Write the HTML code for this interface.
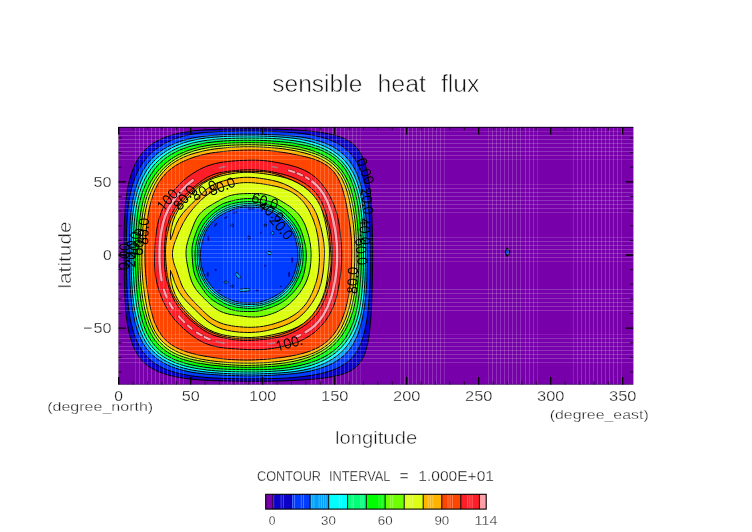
<!DOCTYPE html>
<html><head><meta charset="utf-8"><title>sensible heat flux</title>
<style>html,body{margin:0;padding:0;background:#fff}body{width:752px;height:532px;overflow:hidden}
svg{display:block;font-family:"Liberation Sans",sans-serif}</style></head>
<body><svg width="752" height="532" viewBox="0 0 752 532">
<rect width="752" height="532" fill="#fff"/>
<rect x="118.5" y="127.0" width="514.7" height="257.5" fill="#7800aa"/>
<path d="M372.6 255.0 L372.6 250.6 L372.6 246.2 L372.5 241.7 L372.5 237.3 L372.4 232.8 L372.3 228.2 L372.1 223.6 L372.0 219.0 L371.8 214.3 L371.5 209.5 L371.2 204.6 L370.9 199.6 L370.4 194.5 L369.9 189.3 L369.3 184.1 L368.5 178.7 L367.5 173.3 L366.3 167.9 L364.8 162.6 L362.8 157.4 L360.3 152.5 L357.3 148.1 L353.5 144.3 L349.2 141.2 L344.5 138.6 L339.4 136.6 L334.1 135.0 L328.8 133.8 L323.5 132.8 L318.2 132.0 L313.0 131.4 L307.9 130.9 L302.9 130.5 L298.0 130.1 L293.2 129.8 L288.4 129.6 L283.8 129.4 L279.2 129.2 L274.7 129.1 L270.2 129.0 L265.8 128.9 L261.4 128.8 L257.0 128.8 L252.6 128.7 L248.3 128.7 L244.0 128.8 L239.6 128.8 L235.2 128.8 L230.9 128.9 L226.4 129.0 L222.0 129.1 L217.4 129.3 L212.9 129.5 L208.2 129.7 L203.5 130.0 L198.7 130.4 L193.9 130.8 L189.0 131.5 L184.0 132.3 L179.1 133.2 L174.1 134.4 L169.2 135.9 L164.3 137.6 L159.6 139.7 L155.0 142.1 L150.7 145.0 L146.8 148.2 L143.2 151.9 L140.0 155.9 L137.2 160.3 L134.8 164.9 L132.8 169.8 L131.0 174.7 L129.6 179.7 L128.4 184.7 L127.4 189.7 L126.6 194.7 L126.0 199.7 L125.5 204.6 L125.1 209.4 L124.8 214.2 L124.6 219.0 L124.4 223.6 L124.3 228.2 L124.2 232.8 L124.1 237.3 L124.1 241.7 L124.1 246.2 L124.1 250.6 L124.1 255.0 L124.1 259.4 L124.2 263.8 L124.2 268.2 L124.3 272.7 L124.3 277.2 L124.4 281.7 L124.5 286.3 L124.7 291.0 L124.8 295.7 L125.1 300.6 L125.4 305.5 L125.7 310.4 L126.2 315.5 L126.9 320.6 L127.7 325.7 L128.6 330.9 L129.9 336.1 L131.4 341.3 L133.2 346.3 L135.5 351.2 L138.2 355.7 L141.4 359.9 L145.1 363.6 L149.2 366.8 L153.7 369.4 L158.5 371.7 L163.5 373.5 L168.6 375.1 L173.7 376.3 L178.8 377.3 L183.8 378.2 L188.8 378.8 L193.8 379.4 L198.7 379.8 L203.5 380.1 L208.2 380.4 L212.9 380.6 L217.4 380.7 L222.0 380.8 L226.4 380.9 L230.9 381.0 L235.3 381.1 L239.6 381.1 L244.0 381.2 L248.3 381.2 L252.6 381.2 L257.0 381.2 L261.4 381.2 L265.8 381.2 L270.2 381.2 L274.7 381.1 L279.2 381.0 L283.8 380.8 L288.5 380.7 L293.3 380.5 L298.1 380.2 L303.1 379.9 L308.1 379.5 L313.3 379.1 L318.6 378.6 L324.0 378.0 L329.4 377.2 L335.0 376.1 L340.5 374.8 L345.8 373.0 L350.9 370.7 L355.4 367.6 L359.2 363.8 L362.3 359.3 L364.7 354.2 L366.4 348.7 L367.8 343.2 L368.8 337.5 L369.5 331.9 L370.1 326.4 L370.6 321.0 L371.0 315.8 L371.3 310.6 L371.5 305.6 L371.8 300.6 L371.9 295.8 L372.1 291.1 L372.2 286.4 L372.3 281.8 L372.4 277.2 L372.5 272.7 L372.5 268.3 L372.6 263.8 L372.6 259.4Z" fill="#0a00c8" stroke="#000" stroke-width="1.0" stroke-linejoin="round"/>
<path d="M370.2 255.0 L370.1 250.7 L370.1 246.3 L370.0 242.0 L370.0 237.6 L369.9 233.2 L369.8 228.8 L369.6 224.3 L369.4 219.7 L369.2 215.1 L368.9 210.4 L368.5 205.7 L368.0 200.9 L367.3 196.1 L366.5 191.2 L365.5 186.3 L364.3 181.4 L362.9 176.5 L361.2 171.7 L359.2 167.0 L356.9 162.4 L354.2 158.2 L351.1 154.2 L347.6 150.6 L343.7 147.4 L339.5 144.6 L335.1 142.2 L330.4 140.2 L325.7 138.5 L320.8 137.1 L316.0 135.9 L311.1 135.0 L306.3 134.2 L301.6 133.5 L296.8 133.0 L292.2 132.5 L287.6 132.2 L283.1 131.9 L278.6 131.7 L274.1 131.5 L269.8 131.3 L265.4 131.2 L261.1 131.2 L256.8 131.1 L252.6 131.1 L248.3 131.1 L244.0 131.1 L239.8 131.2 L235.5 131.2 L231.2 131.3 L226.8 131.4 L222.5 131.5 L218.0 131.6 L213.5 131.9 L209.0 132.1 L204.4 132.5 L199.8 133.0 L195.1 133.7 L190.4 134.5 L185.8 135.5 L181.1 136.8 L176.5 138.2 L171.9 140.0 L167.5 142.0 L163.1 144.3 L159.0 146.9 L155.0 149.8 L151.3 153.0 L147.9 156.5 L144.7 160.3 L141.9 164.3 L139.3 168.5 L137.1 172.9 L135.1 177.5 L133.5 182.1 L132.0 186.8 L130.8 191.6 L129.8 196.3 L129.0 201.1 L128.4 205.8 L127.8 210.5 L127.4 215.1 L127.1 219.7 L126.8 224.2 L126.6 228.7 L126.5 233.2 L126.4 237.6 L126.3 242.0 L126.3 246.3 L126.2 250.7 L126.3 255.0 L126.3 259.3 L126.4 263.7 L126.4 268.0 L126.5 272.4 L126.6 276.8 L126.8 281.2 L126.9 285.7 L127.2 290.3 L127.4 294.9 L127.8 299.6 L128.2 304.3 L128.7 309.1 L129.4 313.9 L130.2 318.8 L131.2 323.6 L132.5 328.5 L133.9 333.4 L135.6 338.1 L137.6 342.8 L140.0 347.3 L142.7 351.6 L145.8 355.5 L149.3 359.1 L153.2 362.3 L157.3 365.1 L161.8 367.5 L166.4 369.5 L171.1 371.2 L175.9 372.7 L180.7 373.9 L185.6 374.8 L190.4 375.7 L195.1 376.3 L199.8 376.9 L204.5 377.3 L209.1 377.7 L213.6 377.9 L218.1 378.2 L222.5 378.4 L226.9 378.5 L231.2 378.6 L235.5 378.7 L239.8 378.8 L244.0 378.8 L248.3 378.8 L252.6 378.8 L256.8 378.8 L261.1 378.8 L265.4 378.7 L269.8 378.6 L274.1 378.5 L278.6 378.4 L283.1 378.2 L287.6 377.9 L292.2 377.6 L296.9 377.2 L301.7 376.7 L306.5 376.1 L311.3 375.4 L316.2 374.5 L321.2 373.5 L326.1 372.2 L331.0 370.6 L335.8 368.8 L340.5 366.6 L344.9 363.9 L348.9 360.8 L352.5 357.2 L355.7 353.2 L358.4 348.8 L360.6 344.1 L362.4 339.2 L363.9 334.2 L365.1 329.2 L366.1 324.1 L367.0 319.1 L367.6 314.1 L368.2 309.2 L368.6 304.4 L369.0 299.6 L369.3 294.9 L369.6 290.3 L369.8 285.8 L369.9 281.3 L370.0 276.8 L370.1 272.4 L370.2 268.0 L370.2 263.7 L370.2 259.3Z" fill="#003cff" stroke="#000" stroke-width="1.0" stroke-linejoin="round"/>
<path d="M367.2 255.0 L367.2 250.8 L367.1 246.6 L367.1 242.3 L367.0 238.1 L366.9 233.8 L366.7 229.4 L366.5 225.1 L366.3 220.6 L365.9 216.2 L365.5 211.7 L365.0 207.1 L364.4 202.5 L363.6 197.9 L362.8 193.2 L361.7 188.5 L360.5 183.8 L359.0 179.2 L357.3 174.6 L355.3 170.1 L352.9 165.9 L350.2 161.8 L347.1 158.1 L343.8 154.6 L340.1 151.5 L336.1 148.7 L331.9 146.3 L327.6 144.2 L323.1 142.4 L318.5 140.9 L313.9 139.6 L309.3 138.5 L304.7 137.6 L300.1 136.9 L295.5 136.4 L291.0 135.9 L286.5 135.6 L282.1 135.3 L277.8 135.0 L273.5 134.8 L269.2 134.6 L265.0 134.5 L260.8 134.3 L256.6 134.2 L252.5 134.2 L248.3 134.2 L244.1 134.2 L240.0 134.2 L235.8 134.3 L231.6 134.5 L227.4 134.6 L223.1 134.8 L218.8 135.0 L214.5 135.3 L210.1 135.6 L205.7 136.1 L201.2 136.6 L196.7 137.3 L192.2 138.1 L187.7 139.2 L183.1 140.4 L178.7 141.9 L174.3 143.6 L170.0 145.5 L165.8 147.8 L161.8 150.3 L157.9 153.1 L154.3 156.2 L151.0 159.5 L147.9 163.2 L145.1 167.1 L142.6 171.2 L140.5 175.4 L138.6 179.8 L136.9 184.3 L135.5 188.9 L134.3 193.4 L133.3 198.0 L132.4 202.6 L131.7 207.1 L131.1 211.7 L130.6 216.2 L130.2 220.6 L130.0 225.0 L129.8 229.4 L129.6 233.7 L129.5 238.0 L129.5 242.3 L129.4 246.6 L129.4 250.8 L129.5 255.0 L129.5 259.2 L129.5 263.4 L129.6 267.7 L129.7 271.9 L129.8 276.2 L129.9 280.6 L130.1 284.9 L130.4 289.3 L130.7 293.8 L131.1 298.3 L131.6 302.9 L132.2 307.5 L132.9 312.2 L133.8 316.8 L134.8 321.5 L136.0 326.2 L137.5 330.9 L139.2 335.5 L141.3 339.9 L143.6 344.2 L146.3 348.2 L149.4 352.0 L152.8 355.4 L156.6 358.5 L160.5 361.2 L164.7 363.6 L169.1 365.7 L173.6 367.5 L178.1 369.0 L182.7 370.3 L187.4 371.4 L192.0 372.3 L196.6 373.0 L201.1 373.6 L205.6 374.0 L210.1 374.4 L214.5 374.7 L218.8 375.0 L223.1 375.2 L227.4 375.4 L231.6 375.6 L235.8 375.7 L240.0 375.8 L244.1 375.9 L248.3 375.9 L252.5 375.9 L256.6 375.8 L260.8 375.7 L265.0 375.6 L269.2 375.4 L273.5 375.2 L277.7 374.9 L282.1 374.7 L286.5 374.3 L290.9 373.9 L295.4 373.5 L300.0 372.9 L304.6 372.1 L309.2 371.3 L313.8 370.2 L318.4 368.9 L323.0 367.4 L327.5 365.7 L331.9 363.7 L336.1 361.3 L340.2 358.6 L343.9 355.6 L347.3 352.1 L350.4 348.4 L353.1 344.3 L355.4 340.0 L357.4 335.5 L359.1 330.9 L360.5 326.2 L361.7 321.5 L362.8 316.8 L363.6 312.1 L364.4 307.5 L365.0 302.9 L365.5 298.3 L366.0 293.8 L366.3 289.4 L366.6 285.0 L366.8 280.6 L366.9 276.2 L367.0 271.9 L367.1 267.7 L367.2 263.4 L367.2 259.2Z" fill="#00a0ff" stroke="#000" stroke-width="1.0" stroke-linejoin="round"/>
<path d="M365.5 255.0 L365.5 250.8 L365.5 246.7 L365.4 242.5 L365.3 238.3 L365.1 234.1 L364.9 229.8 L364.7 225.5 L364.3 221.2 L363.9 216.8 L363.5 212.4 L362.9 208.0 L362.3 203.5 L361.5 198.9 L360.5 194.4 L359.4 189.8 L358.1 185.3 L356.6 180.8 L354.8 176.4 L352.7 172.1 L350.3 168.1 L347.6 164.2 L344.6 160.6 L341.2 157.2 L337.7 154.2 L333.8 151.5 L329.8 149.0 L325.6 146.9 L321.3 145.0 L317.0 143.4 L312.5 142.0 L308.1 140.9 L303.6 139.9 L299.1 139.1 L294.7 138.4 L290.3 137.9 L285.9 137.4 L281.6 137.1 L277.3 136.8 L273.1 136.5 L268.9 136.3 L264.7 136.2 L260.6 136.1 L256.5 136.0 L252.4 135.9 L248.3 135.9 L244.2 136.0 L240.1 136.0 L236.0 136.1 L231.9 136.2 L227.7 136.3 L223.5 136.5 L219.3 136.8 L215.0 137.1 L210.7 137.5 L206.3 137.9 L202.0 138.6 L197.6 139.3 L193.2 140.2 L188.8 141.3 L184.4 142.7 L180.1 144.2 L175.9 145.9 L171.7 147.9 L167.7 150.2 L163.8 152.7 L160.1 155.5 L156.5 158.5 L153.3 161.8 L150.2 165.3 L147.5 169.1 L145.0 173.1 L142.8 177.2 L140.9 181.4 L139.2 185.8 L137.7 190.2 L136.5 194.6 L135.4 199.1 L134.5 203.5 L133.7 208.0 L133.1 212.4 L132.6 216.8 L132.2 221.2 L131.9 225.5 L131.7 229.8 L131.5 234.1 L131.3 238.3 L131.3 242.5 L131.2 246.7 L131.2 250.8 L131.1 255.0 L131.2 259.2 L131.2 263.3 L131.2 267.5 L131.3 271.7 L131.5 275.9 L131.7 280.2 L131.9 284.5 L132.2 288.8 L132.5 293.2 L133.0 297.6 L133.5 302.1 L134.1 306.6 L134.9 311.2 L135.8 315.8 L136.9 320.3 L138.2 324.9 L139.7 329.4 L141.5 333.8 L143.5 338.1 L145.9 342.3 L148.6 346.2 L151.6 349.9 L154.9 353.2 L158.5 356.3 L162.4 359.0 L166.4 361.4 L170.7 363.5 L175.0 365.3 L179.5 366.9 L184.0 368.2 L188.5 369.3 L193.0 370.2 L197.5 370.9 L201.9 371.5 L206.4 372.0 L210.7 372.5 L215.0 372.8 L219.3 373.1 L223.5 373.4 L227.7 373.6 L231.9 373.8 L236.0 373.9 L240.1 374.0 L244.2 374.0 L248.3 374.0 L252.4 374.0 L256.5 373.9 L260.6 373.8 L264.7 373.7 L268.9 373.5 L273.1 373.3 L277.3 373.1 L281.6 372.8 L285.9 372.5 L290.2 372.0 L294.6 371.5 L299.1 370.8 L303.5 370.0 L308.0 369.0 L312.4 367.8 L316.8 366.4 L321.2 364.7 L325.5 362.9 L329.6 360.7 L333.6 358.2 L337.4 355.5 L341.0 352.5 L344.3 349.1 L347.3 345.5 L350.0 341.7 L352.4 337.6 L354.6 333.4 L356.4 329.1 L358.1 324.7 L359.4 320.2 L360.6 315.6 L361.6 311.1 L362.4 306.6 L363.1 302.1 L363.6 297.6 L364.1 293.2 L364.4 288.8 L364.7 284.5 L364.9 280.2 L365.1 275.9 L365.2 271.7 L365.3 267.5 L365.4 263.3 L365.5 259.2Z" fill="#00ffff" stroke="#000" stroke-width="1.0" stroke-linejoin="round"/>
<path d="M363.5 255.0 L363.5 250.9 L363.4 246.8 L363.3 242.7 L363.2 238.6 L363.0 234.5 L362.8 230.3 L362.5 226.1 L362.2 221.8 L361.8 217.5 L361.4 213.2 L360.8 208.8 L360.2 204.4 L359.4 200.0 L358.4 195.5 L357.3 191.1 L356.0 186.7 L354.4 182.3 L352.6 178.0 L350.6 173.8 L348.3 169.8 L345.6 166.0 L342.7 162.4 L339.5 159.1 L336.0 156.1 L332.2 153.4 L328.2 151.1 L324.1 149.0 L319.9 147.2 L315.6 145.7 L311.2 144.3 L306.8 143.2 L302.5 142.2 L298.1 141.4 L293.8 140.7 L289.5 140.1 L285.2 139.6 L281.0 139.1 L276.8 138.8 L272.7 138.5 L268.6 138.3 L264.5 138.2 L260.4 138.1 L256.4 138.1 L252.3 138.0 L248.3 138.0 L244.3 138.1 L240.3 138.1 L236.2 138.2 L232.2 138.3 L228.1 138.5 L224.0 138.7 L219.8 139.0 L215.6 139.3 L211.4 139.7 L207.2 140.2 L202.9 140.9 L198.6 141.7 L194.3 142.6 L190.0 143.7 L185.8 145.0 L181.5 146.5 L177.4 148.2 L173.3 150.2 L169.3 152.4 L165.5 154.8 L161.9 157.5 L158.5 160.5 L155.3 163.7 L152.3 167.2 L149.6 170.9 L147.2 174.8 L145.0 178.8 L143.1 182.9 L141.4 187.2 L139.9 191.5 L138.7 195.8 L137.6 200.1 L136.7 204.5 L135.9 208.9 L135.3 213.2 L134.8 217.5 L134.3 221.8 L134.0 226.1 L133.7 230.3 L133.5 234.4 L133.4 238.6 L133.2 242.7 L133.1 246.8 L133.1 250.9 L133.0 255.0 L133.1 259.1 L133.1 263.2 L133.2 267.3 L133.3 271.4 L133.5 275.6 L133.8 279.7 L134.0 283.9 L134.4 288.2 L134.8 292.4 L135.3 296.8 L135.9 301.1 L136.5 305.6 L137.3 310.0 L138.1 314.5 L139.2 319.0 L140.4 323.5 L141.8 328.0 L143.5 332.3 L145.5 336.6 L147.7 340.7 L150.4 344.6 L153.3 348.2 L156.6 351.5 L160.1 354.4 L164.0 357.1 L168.0 359.4 L172.2 361.4 L176.5 363.2 L180.8 364.7 L185.2 366.0 L189.6 367.1 L194.0 368.0 L198.4 368.8 L202.8 369.4 L207.1 370.0 L211.4 370.4 L215.6 370.8 L219.8 371.1 L224.0 371.3 L228.1 371.5 L232.2 371.7 L236.2 371.8 L240.2 371.9 L244.3 372.0 L248.3 372.0 L252.3 372.0 L256.4 372.0 L260.4 371.9 L264.5 371.7 L268.5 371.5 L272.6 371.3 L276.8 371.0 L281.0 370.7 L285.2 370.3 L289.4 369.8 L293.7 369.2 L298.0 368.5 L302.4 367.6 L306.7 366.6 L311.0 365.4 L315.3 363.9 L319.5 362.3 L323.7 360.3 L327.7 358.2 L331.5 355.7 L335.2 353.0 L338.7 350.0 L341.9 346.8 L344.9 343.3 L347.6 339.6 L350.1 335.7 L352.2 331.7 L354.1 327.5 L355.7 323.2 L357.1 318.8 L358.3 314.4 L359.3 310.0 L360.1 305.6 L360.8 301.2 L361.4 296.8 L361.8 292.5 L362.2 288.2 L362.6 283.9 L362.9 279.7 L363.1 275.6 L363.3 271.4 L363.4 267.3 L363.5 263.2 L363.5 259.1Z" fill="#00ff78" stroke="#000" stroke-width="1.0" stroke-linejoin="round"/>
<path d="M361.4 255.0 L361.4 251.0 L361.3 247.0 L361.2 242.9 L361.1 238.9 L360.9 234.8 L360.6 230.8 L360.3 226.6 L360.0 222.5 L359.6 218.3 L359.1 214.0 L358.6 209.8 L357.9 205.4 L357.1 201.1 L356.2 196.7 L355.1 192.4 L353.9 188.0 L352.4 183.7 L350.7 179.4 L348.7 175.3 L346.5 171.3 L343.9 167.5 L341.1 164.0 L337.9 160.7 L334.5 157.8 L330.8 155.2 L326.8 152.9 L322.7 150.9 L318.5 149.2 L314.3 147.8 L310.0 146.5 L305.6 145.5 L301.3 144.6 L297.1 143.8 L292.8 143.1 L288.6 142.5 L284.4 142.0 L280.3 141.6 L276.2 141.3 L272.2 141.0 L268.1 140.7 L264.1 140.5 L260.2 140.4 L256.2 140.3 L252.2 140.2 L248.3 140.2 L244.4 140.2 L240.4 140.3 L236.4 140.4 L232.5 140.5 L228.5 140.7 L224.4 140.9 L220.4 141.2 L216.3 141.6 L212.2 142.1 L208.0 142.6 L203.9 143.3 L199.7 144.1 L195.5 145.0 L191.3 146.1 L187.1 147.3 L182.9 148.8 L178.9 150.4 L174.9 152.4 L171.0 154.6 L167.3 157.0 L163.8 159.7 L160.5 162.7 L157.4 165.9 L154.6 169.3 L152.0 172.9 L149.6 176.7 L147.4 180.5 L145.5 184.6 L143.8 188.7 L142.3 192.8 L141.0 197.0 L139.9 201.3 L139.0 205.6 L138.2 209.8 L137.6 214.1 L137.1 218.3 L136.6 222.5 L136.3 226.6 L136.0 230.8 L135.8 234.8 L135.6 238.9 L135.5 243.0 L135.4 247.0 L135.3 251.0 L135.3 255.0 L135.3 259.0 L135.4 263.0 L135.5 267.0 L135.6 271.1 L135.8 275.1 L136.0 279.2 L136.3 283.4 L136.6 287.5 L137.0 291.7 L137.5 296.0 L138.0 300.3 L138.7 304.6 L139.4 308.9 L140.3 313.3 L141.4 317.7 L142.7 322.0 L144.1 326.4 L145.8 330.6 L147.8 334.8 L150.0 338.8 L152.5 342.6 L155.4 346.1 L158.6 349.4 L162.0 352.3 L165.8 354.9 L169.7 357.2 L173.8 359.2 L178.0 360.9 L182.3 362.3 L186.6 363.6 L190.9 364.7 L195.2 365.6 L199.5 366.4 L203.7 367.1 L207.9 367.6 L212.1 368.1 L216.3 368.5 L220.4 368.8 L224.4 369.1 L228.5 369.3 L232.5 369.4 L236.4 369.5 L240.4 369.6 L244.4 369.7 L248.3 369.7 L252.2 369.7 L256.2 369.7 L260.2 369.7 L264.2 369.6 L268.2 369.4 L272.2 369.2 L276.3 368.9 L280.4 368.5 L284.5 368.1 L288.6 367.5 L292.8 366.9 L297.0 366.1 L301.2 365.2 L305.4 364.1 L309.6 362.9 L313.8 361.5 L318.0 359.9 L322.0 358.1 L326.0 356.0 L329.8 353.6 L333.4 351.0 L336.9 348.1 L340.0 345.0 L342.9 341.5 L345.6 337.9 L347.9 334.0 L350.0 330.0 L351.8 325.9 L353.4 321.7 L354.7 317.4 L355.9 313.1 L356.8 308.8 L357.7 304.4 L358.3 300.2 L358.9 295.9 L359.4 291.7 L359.9 287.5 L360.2 283.3 L360.5 279.2 L360.8 275.1 L361.0 271.1 L361.2 267.1 L361.3 263.0 L361.4 259.0Z" fill="#00ff00" stroke="#000" stroke-width="1.0" stroke-linejoin="round"/>
<path d="M358.9 255.0 L358.9 251.1 L358.8 247.2 L358.7 243.2 L358.5 239.3 L358.3 235.3 L358.0 231.3 L357.7 227.3 L357.3 223.2 L356.9 219.2 L356.4 215.0 L355.8 210.9 L355.1 206.7 L354.4 202.5 L353.4 198.2 L352.4 194.0 L351.1 189.7 L349.7 185.6 L348.0 181.4 L346.0 177.4 L343.8 173.6 L341.3 170.0 L338.5 166.6 L335.3 163.5 L332.0 160.6 L328.4 158.1 L324.6 155.9 L320.6 153.9 L316.6 152.2 L312.5 150.7 L308.4 149.3 L304.2 148.2 L300.0 147.2 L295.9 146.4 L291.8 145.7 L287.7 145.1 L283.6 144.5 L279.6 144.1 L275.6 143.7 L271.7 143.4 L267.7 143.2 L263.8 143.0 L259.9 142.9 L256.0 142.8 L252.2 142.7 L248.3 142.7 L244.4 142.7 L240.6 142.8 L236.7 142.9 L232.8 143.0 L228.9 143.2 L225.0 143.5 L221.0 143.8 L217.0 144.2 L213.0 144.7 L209.0 145.3 L204.9 146.0 L200.9 146.8 L196.8 147.8 L192.8 149.0 L188.8 150.3 L184.8 151.8 L180.9 153.5 L177.1 155.4 L173.4 157.6 L169.8 160.0 L166.4 162.6 L163.2 165.5 L160.1 168.5 L157.3 171.8 L154.7 175.2 L152.3 178.9 L150.2 182.6 L148.3 186.5 L146.6 190.5 L145.1 194.5 L143.8 198.6 L142.7 202.7 L141.8 206.8 L141.0 211.0 L140.3 215.1 L139.7 219.2 L139.2 223.2 L138.8 227.3 L138.5 231.3 L138.3 235.3 L138.1 239.3 L137.9 243.2 L137.8 247.2 L137.7 251.1 L137.7 255.0 L137.7 258.9 L137.8 262.8 L137.9 266.8 L138.0 270.7 L138.2 274.7 L138.4 278.7 L138.8 282.7 L139.1 286.8 L139.6 290.9 L140.1 295.0 L140.7 299.2 L141.4 303.4 L142.2 307.6 L143.1 311.8 L144.2 316.1 L145.4 320.3 L146.8 324.5 L148.5 328.7 L150.3 332.7 L152.5 336.6 L155.0 340.3 L157.8 343.8 L160.9 347.0 L164.2 349.8 L167.9 352.4 L171.7 354.6 L175.7 356.5 L179.8 358.2 L183.9 359.6 L188.1 360.8 L192.4 361.9 L196.6 362.8 L200.7 363.5 L204.9 364.2 L209.0 364.8 L213.0 365.3 L217.0 365.7 L221.0 366.1 L225.0 366.4 L228.9 366.7 L232.8 366.9 L236.7 367.1 L240.6 367.2 L244.4 367.3 L248.3 367.3 L252.2 367.3 L256.0 367.2 L259.9 367.1 L263.8 367.0 L267.7 366.7 L271.6 366.5 L275.6 366.2 L279.6 365.8 L283.6 365.3 L287.6 364.8 L291.7 364.1 L295.8 363.3 L299.9 362.4 L303.9 361.3 L308.0 360.0 L312.0 358.5 L315.9 356.9 L319.8 354.9 L323.5 352.8 L327.1 350.4 L330.5 347.8 L333.8 344.9 L336.8 341.8 L339.6 338.5 L342.2 335.0 L344.5 331.3 L346.6 327.6 L348.5 323.6 L350.2 319.6 L351.6 315.6 L352.9 311.5 L354.0 307.3 L354.9 303.2 L355.7 299.1 L356.4 294.9 L356.9 290.8 L357.4 286.8 L357.8 282.7 L358.1 278.7 L358.3 274.7 L358.6 270.7 L358.7 266.8 L358.8 262.8 L358.9 258.9Z" fill="#6eff00" stroke="#000" stroke-width="1.0" stroke-linejoin="round"/>
<path d="M356.8 255.0 L356.8 251.2 L356.7 247.3 L356.6 243.4 L356.4 239.6 L356.2 235.7 L356.0 231.8 L355.7 227.8 L355.3 223.8 L354.9 219.8 L354.4 215.8 L353.8 211.7 L353.1 207.6 L352.3 203.5 L351.4 199.3 L350.3 195.2 L349.1 191.0 L347.7 186.9 L346.1 182.8 L344.3 178.8 L342.2 175.0 L339.7 171.4 L337.0 168.0 L334.0 164.9 L330.6 162.1 L327.1 159.6 L323.3 157.5 L319.4 155.6 L315.4 154.0 L311.3 152.6 L307.2 151.4 L303.1 150.3 L299.0 149.4 L294.9 148.6 L290.9 147.9 L286.9 147.3 L282.9 146.8 L279.0 146.3 L275.1 145.9 L271.2 145.6 L267.3 145.3 L263.5 145.1 L259.7 145.0 L255.9 144.8 L252.1 144.8 L248.3 144.7 L244.5 144.8 L240.7 144.8 L236.9 145.0 L233.1 145.1 L229.3 145.4 L225.4 145.6 L221.5 146.0 L217.6 146.4 L213.7 146.9 L209.8 147.4 L205.8 148.1 L201.8 148.9 L197.8 149.9 L193.8 151.0 L189.9 152.3 L186.0 153.7 L182.2 155.4 L178.5 157.4 L174.8 159.5 L171.4 161.9 L168.1 164.5 L164.9 167.3 L162.0 170.3 L159.2 173.5 L156.7 176.9 L154.4 180.5 L152.3 184.1 L150.4 187.9 L148.7 191.8 L147.2 195.7 L145.9 199.7 L144.8 203.8 L143.9 207.8 L143.1 211.8 L142.4 215.9 L141.9 219.9 L141.4 223.9 L141.0 227.8 L140.6 231.8 L140.3 235.7 L140.1 239.6 L139.9 243.4 L139.8 247.3 L139.8 251.2 L139.7 255.0 L139.8 258.8 L139.8 262.7 L139.9 266.6 L140.1 270.4 L140.3 274.3 L140.5 278.3 L140.8 282.2 L141.2 286.2 L141.6 290.2 L142.1 294.2 L142.7 298.3 L143.4 302.4 L144.3 306.5 L145.2 310.7 L146.3 314.8 L147.5 318.9 L149.0 323.0 L150.6 327.1 L152.5 331.0 L154.6 334.8 L157.0 338.5 L159.7 341.9 L162.7 345.0 L166.0 347.9 L169.5 350.4 L173.2 352.6 L177.1 354.5 L181.1 356.1 L185.2 357.5 L189.4 358.7 L193.5 359.7 L197.6 360.5 L201.7 361.3 L205.7 362.0 L209.7 362.6 L213.7 363.1 L217.6 363.6 L221.5 364.1 L225.4 364.4 L229.2 364.7 L233.1 365.0 L236.9 365.2 L240.7 365.3 L244.5 365.4 L248.3 365.4 L252.1 365.3 L255.9 365.2 L259.7 365.1 L263.5 364.9 L267.3 364.6 L271.2 364.4 L275.1 364.0 L279.0 363.6 L282.9 363.1 L286.8 362.6 L290.8 361.9 L294.8 361.1 L298.8 360.1 L302.8 359.0 L306.7 357.8 L310.7 356.4 L314.5 354.7 L318.3 352.9 L322.0 350.9 L325.6 348.6 L329.0 346.1 L332.2 343.3 L335.2 340.3 L338.0 337.0 L340.5 333.6 L342.7 329.9 L344.8 326.2 L346.5 322.3 L348.1 318.3 L349.5 314.3 L350.7 310.3 L351.8 306.3 L352.7 302.2 L353.6 298.2 L354.3 294.2 L354.9 290.2 L355.4 286.2 L355.8 282.2 L356.1 278.3 L356.4 274.4 L356.6 270.5 L356.7 266.6 L356.8 262.7 L356.8 258.8Z" fill="#dcff14" stroke="#000" stroke-width="1.0" stroke-linejoin="round"/>
<path d="M354.8 255.0 L354.8 251.2 L354.8 247.4 L354.7 243.6 L354.6 239.8 L354.3 236.0 L354.1 232.2 L353.7 228.3 L353.3 224.4 L352.8 220.5 L352.3 216.6 L351.7 212.6 L351.0 208.6 L350.2 204.5 L349.4 200.4 L348.4 196.3 L347.3 192.2 L346.0 188.1 L344.4 184.1 L342.6 180.2 L340.5 176.4 L338.1 172.9 L335.4 169.6 L332.4 166.6 L329.1 163.9 L325.5 161.5 L321.8 159.4 L318.0 157.6 L314.0 156.0 L310.1 154.6 L306.0 153.4 L302.0 152.4 L298.0 151.4 L294.1 150.6 L290.1 149.9 L286.2 149.3 L282.3 148.7 L278.4 148.3 L274.6 147.9 L270.8 147.6 L267.0 147.4 L263.2 147.2 L259.5 147.0 L255.7 146.9 L252.0 146.8 L248.3 146.8 L244.6 146.8 L240.9 146.9 L237.1 147.0 L233.4 147.2 L229.6 147.4 L225.8 147.7 L222.0 148.1 L218.2 148.5 L214.4 149.0 L210.5 149.6 L206.7 150.3 L202.8 151.2 L198.9 152.1 L195.0 153.1 L191.1 154.3 L187.2 155.7 L183.4 157.3 L179.7 159.1 L176.1 161.1 L172.6 163.4 L169.3 165.9 L166.2 168.7 L163.4 171.7 L160.7 174.9 L158.3 178.3 L156.1 181.8 L154.1 185.5 L152.3 189.2 L150.6 193.0 L149.2 196.9 L148.0 200.8 L146.8 204.7 L145.9 208.7 L145.1 212.6 L144.4 216.6 L143.8 220.5 L143.3 224.4 L142.9 228.3 L142.6 232.2 L142.4 236.0 L142.2 239.9 L142.0 243.7 L141.9 247.4 L141.8 251.2 L141.8 255.0 L141.8 258.8 L141.8 262.6 L141.9 266.4 L142.1 270.2 L142.3 274.0 L142.6 277.8 L143.0 281.7 L143.4 285.6 L143.9 289.5 L144.4 293.4 L145.0 297.4 L145.7 301.4 L146.5 305.4 L147.3 309.5 L148.3 313.6 L149.4 317.7 L150.8 321.8 L152.3 325.8 L154.1 329.8 L156.2 333.5 L158.6 337.0 L161.3 340.3 L164.3 343.3 L167.6 346.0 L171.1 348.4 L174.8 350.5 L178.6 352.4 L182.6 354.0 L186.5 355.4 L190.5 356.6 L194.6 357.7 L198.5 358.6 L202.5 359.4 L206.5 360.1 L210.4 360.7 L214.3 361.2 L218.2 361.7 L222.0 362.0 L225.8 362.3 L229.6 362.6 L233.4 362.8 L237.1 362.9 L240.9 363.0 L244.6 363.1 L248.3 363.1 L252.0 363.1 L255.7 363.0 L259.5 362.9 L263.2 362.8 L267.0 362.6 L270.7 362.3 L274.5 361.9 L278.4 361.5 L282.2 361.0 L286.1 360.4 L290.0 359.7 L293.9 359.0 L297.8 358.1 L301.8 357.1 L305.7 356.0 L309.6 354.6 L313.5 353.1 L317.2 351.4 L320.9 349.4 L324.4 347.1 L327.8 344.6 L330.9 341.9 L333.8 338.8 L336.4 335.6 L338.8 332.1 L341.0 328.5 L342.9 324.8 L344.6 321.0 L346.2 317.1 L347.5 313.2 L348.7 309.2 L349.8 305.3 L350.7 301.3 L351.5 297.3 L352.2 293.4 L352.7 289.5 L353.2 285.5 L353.6 281.7 L353.9 277.8 L354.2 274.0 L354.4 270.1 L354.5 266.3 L354.7 262.6 L354.8 258.8Z" fill="#ffb400" stroke="#000" stroke-width="1.0" stroke-linejoin="round"/>
<path d="M351.8 255.0 L351.8 251.3 L351.7 247.7 L351.6 244.0 L351.4 240.3 L351.1 236.6 L350.8 232.9 L350.4 229.2 L349.9 225.4 L349.3 221.7 L348.7 217.9 L348.1 214.1 L347.4 210.2 L346.7 206.3 L345.9 202.3 L345.0 198.3 L344.0 194.3 L342.9 190.2 L341.6 186.2 L340.0 182.2 L338.2 178.4 L336.0 174.8 L333.5 171.5 L330.6 168.5 L327.3 165.8 L323.8 163.6 L320.1 161.6 L316.3 160.0 L312.3 158.6 L308.3 157.5 L304.3 156.5 L300.4 155.6 L296.4 154.8 L292.6 154.0 L288.7 153.3 L285.0 152.7 L281.2 152.1 L277.5 151.6 L273.8 151.1 L270.1 150.8 L266.5 150.4 L262.8 150.2 L259.2 150.1 L255.5 150.0 L251.9 150.0 L248.3 150.0 L244.7 150.1 L241.1 150.2 L237.5 150.4 L233.8 150.6 L230.2 150.8 L226.6 151.1 L222.9 151.5 L219.2 151.9 L215.5 152.4 L211.7 152.9 L208.0 153.6 L204.2 154.4 L200.4 155.3 L196.7 156.3 L192.9 157.5 L189.2 158.9 L185.5 160.4 L181.8 162.1 L178.3 164.0 L174.8 166.1 L171.6 168.4 L168.4 171.0 L165.5 173.8 L162.9 176.9 L160.4 180.1 L158.2 183.5 L156.3 187.1 L154.6 190.8 L153.1 194.6 L151.9 198.5 L150.8 202.3 L149.8 206.2 L149.0 210.1 L148.3 214.0 L147.7 217.8 L147.2 221.6 L146.7 225.4 L146.3 229.2 L145.9 232.9 L145.6 236.6 L145.4 240.3 L145.2 244.0 L145.1 247.7 L145.0 251.3 L144.9 255.0 L145.0 258.7 L145.0 262.3 L145.2 266.0 L145.4 269.7 L145.6 273.4 L145.9 277.1 L146.3 280.8 L146.7 284.6 L147.2 288.4 L147.7 292.2 L148.3 296.0 L148.9 299.9 L149.6 303.9 L150.5 307.8 L151.4 311.8 L152.5 315.8 L153.7 319.8 L155.2 323.7 L156.9 327.5 L158.9 331.2 L161.2 334.7 L163.7 337.9 L166.6 340.9 L169.8 343.5 L173.2 345.9 L176.9 347.9 L180.6 349.6 L184.5 351.1 L188.4 352.4 L192.3 353.5 L196.2 354.5 L200.1 355.3 L204.0 356.1 L207.8 356.7 L211.6 357.3 L215.4 357.9 L219.1 358.4 L222.8 358.8 L226.5 359.2 L230.2 359.5 L233.8 359.7 L237.4 359.9 L241.1 360.0 L244.7 360.1 L248.3 360.1 L251.9 360.0 L255.5 359.9 L259.1 359.7 L262.8 359.5 L266.4 359.2 L270.0 358.9 L273.7 358.5 L277.4 358.0 L281.1 357.6 L284.9 357.0 L288.6 356.4 L292.5 355.7 L296.3 354.9 L300.2 354.1 L304.0 353.0 L307.9 351.8 L311.7 350.4 L315.4 348.8 L319.1 347.0 L322.5 344.9 L325.8 342.4 L328.9 339.8 L331.7 336.8 L334.3 333.6 L336.6 330.2 L338.6 326.7 L340.5 323.0 L342.1 319.2 L343.5 315.4 L344.8 311.6 L345.9 307.7 L346.9 303.8 L347.7 300.0 L348.5 296.1 L349.1 292.3 L349.7 288.4 L350.1 284.7 L350.5 280.9 L350.8 277.1 L351.1 273.4 L351.3 269.7 L351.5 266.0 L351.6 262.3 L351.7 258.7Z" fill="#ff4600" stroke="#000" stroke-width="1.0" stroke-linejoin="round"/>
<path d="M341.7 255.0 L341.7 251.7 L341.5 248.4 L341.3 245.1 L341.1 241.8 L340.8 238.4 L340.5 235.1 L340.1 231.8 L339.7 228.4 L339.2 225.0 L338.6 221.6 L337.9 218.2 L337.2 214.8 L336.2 211.4 L335.1 208.1 L333.9 204.8 L332.5 201.5 L331.0 198.3 L329.3 195.2 L327.5 192.1 L325.6 189.1 L323.5 186.2 L321.3 183.4 L318.9 180.7 L316.4 178.2 L313.6 175.9 L310.7 173.8 L307.7 171.9 L304.6 170.3 L301.3 168.9 L298.0 167.6 L294.6 166.5 L291.2 165.6 L287.9 164.7 L284.5 164.0 L281.2 163.3 L277.8 162.6 L274.5 162.1 L271.2 161.5 L268.0 161.1 L264.7 160.7 L261.4 160.4 L258.1 160.2 L254.8 160.1 L251.6 160.1 L248.3 160.2 L245.0 160.3 L241.8 160.4 L238.5 160.6 L235.3 160.8 L232.0 161.1 L228.7 161.4 L225.4 161.8 L222.1 162.2 L218.8 162.8 L215.5 163.5 L212.2 164.4 L209.0 165.4 L205.8 166.6 L202.7 167.9 L199.7 169.4 L196.7 171.1 L193.7 172.9 L190.9 174.8 L188.1 176.8 L185.4 178.9 L182.8 181.1 L180.3 183.5 L177.9 185.9 L175.6 188.5 L173.3 191.1 L171.3 193.9 L169.3 196.7 L167.5 199.6 L165.8 202.6 L164.2 205.7 L162.7 208.8 L161.4 212.0 L160.3 215.2 L159.2 218.4 L158.3 221.7 L157.6 225.1 L156.9 228.4 L156.4 231.7 L156.0 235.1 L155.6 238.4 L155.4 241.7 L155.1 245.1 L155.0 248.4 L154.8 251.7 L154.7 255.0 L154.6 258.3 L154.6 261.7 L154.6 265.0 L154.8 268.3 L155.1 271.7 L155.4 275.0 L156.0 278.4 L156.6 281.7 L157.4 285.0 L158.3 288.3 L159.3 291.5 L160.5 294.7 L161.8 297.9 L163.1 301.0 L164.6 304.1 L166.2 307.1 L167.9 310.1 L169.8 313.0 L171.7 315.8 L173.8 318.5 L176.0 321.1 L178.4 323.6 L180.8 326.0 L183.3 328.4 L185.8 330.6 L188.5 332.8 L191.2 334.9 L193.9 336.9 L196.8 338.8 L199.7 340.5 L202.7 342.1 L205.8 343.5 L209.0 344.7 L212.2 345.7 L215.5 346.5 L218.8 347.2 L222.1 347.7 L225.5 348.1 L228.8 348.4 L232.0 348.6 L235.3 348.9 L238.6 349.1 L241.8 349.3 L245.1 349.4 L248.3 349.6 L251.6 349.7 L254.8 349.7 L258.1 349.7 L261.4 349.6 L264.7 349.4 L268.0 349.0 L271.3 348.6 L274.6 348.1 L277.9 347.5 L281.2 346.8 L284.5 346.1 L287.8 345.2 L291.2 344.2 L294.4 343.1 L297.7 341.9 L300.9 340.6 L304.1 339.0 L307.2 337.3 L310.2 335.4 L313.1 333.4 L315.8 331.2 L318.4 328.8 L320.9 326.2 L323.3 323.6 L325.5 320.8 L327.5 317.8 L329.4 314.8 L331.0 311.7 L332.5 308.5 L333.9 305.2 L335.1 301.8 L336.1 298.5 L337.0 295.1 L337.7 291.7 L338.4 288.3 L339.0 284.9 L339.5 281.6 L340.0 278.2 L340.5 274.9 L340.9 271.6 L341.2 268.3 L341.4 264.9 L341.6 261.6 L341.7 258.3Z" fill="#ff1e28" stroke="#000" stroke-width="1.0" stroke-linejoin="round"/>
<path d="M332.3 255.0 L332.3 252.0 L332.3 249.0 L332.2 246.0 L332.0 243.1 L331.7 240.1 L331.4 237.1 L330.9 234.1 L330.4 231.1 L329.8 228.1 L329.1 225.1 L328.3 222.2 L327.5 219.2 L326.7 216.2 L325.8 213.2 L324.8 210.1 L323.8 207.1 L322.6 204.1 L321.2 201.2 L319.6 198.4 L317.9 195.7 L316.0 193.1 L313.8 190.7 L311.5 188.5 L309.1 186.5 L306.5 184.6 L303.8 182.8 L301.0 181.3 L298.2 179.8 L295.4 178.5 L292.5 177.3 L289.5 176.3 L286.6 175.3 L283.6 174.5 L280.6 173.7 L277.7 173.0 L274.7 172.4 L271.8 171.8 L268.8 171.3 L265.9 170.9 L263.0 170.5 L260.0 170.2 L257.1 170.0 L254.2 169.8 L251.2 169.8 L248.3 169.8 L245.4 169.8 L242.4 170.0 L239.5 170.2 L236.6 170.4 L233.7 170.7 L230.7 171.0 L227.8 171.3 L224.8 171.8 L221.8 172.3 L218.9 172.9 L216.0 173.7 L213.1 174.7 L210.3 175.9 L207.6 177.2 L204.9 178.7 L202.4 180.4 L199.9 182.2 L197.5 184.0 L195.2 186.0 L192.9 188.0 L190.7 190.0 L188.4 192.1 L186.3 194.2 L184.1 196.3 L182.1 198.6 L180.1 200.9 L178.2 203.3 L176.4 205.8 L174.8 208.3 L173.2 211.0 L171.8 213.7 L170.5 216.5 L169.4 219.3 L168.4 222.2 L167.5 225.1 L166.7 228.1 L166.1 231.1 L165.6 234.1 L165.3 237.1 L165.0 240.1 L164.8 243.1 L164.6 246.1 L164.5 249.0 L164.4 252.0 L164.4 255.0 L164.4 258.0 L164.4 261.0 L164.5 263.9 L164.7 266.9 L165.0 269.9 L165.4 272.9 L165.9 275.9 L166.5 278.8 L167.2 281.8 L168.0 284.7 L168.9 287.6 L169.9 290.4 L171.0 293.3 L172.3 296.1 L173.6 298.8 L175.0 301.5 L176.6 304.1 L178.3 306.6 L180.1 309.1 L182.1 311.4 L184.1 313.7 L186.2 315.9 L188.4 318.0 L190.6 320.1 L192.9 322.1 L195.2 324.0 L197.6 325.9 L200.0 327.7 L202.5 329.5 L205.1 331.1 L207.7 332.5 L210.4 333.8 L213.2 335.0 L216.1 336.0 L219.0 336.8 L221.9 337.6 L224.8 338.2 L227.7 338.8 L230.7 339.3 L233.6 339.7 L236.5 340.0 L239.5 340.2 L242.4 340.4 L245.4 340.5 L248.3 340.4 L251.2 340.4 L254.2 340.2 L257.1 340.0 L260.0 339.8 L263.0 339.5 L265.9 339.2 L268.9 338.8 L271.8 338.4 L274.8 337.9 L277.8 337.4 L280.8 336.7 L283.7 335.9 L286.7 334.9 L289.6 333.8 L292.4 332.6 L295.2 331.2 L297.9 329.7 L300.6 328.1 L303.3 326.4 L305.8 324.6 L308.3 322.7 L310.7 320.6 L312.9 318.4 L315.0 316.0 L317.0 313.5 L318.8 310.9 L320.4 308.2 L321.9 305.4 L323.3 302.6 L324.5 299.7 L325.6 296.8 L326.6 293.8 L327.6 290.8 L328.4 287.9 L329.2 284.9 L329.8 281.9 L330.4 278.9 L330.9 275.9 L331.3 272.9 L331.6 269.9 L331.8 266.9 L332.0 263.9 L332.1 261.0 L332.2 258.0Z" fill="#ff4600" stroke="#000" stroke-width="1.0" stroke-linejoin="round"/>
<path d="M331.0 255.0 L330.8 252.1 L330.5 249.2 L330.3 246.2 L330.0 243.3 L329.8 240.4 L329.6 237.5 L329.3 234.5 L328.9 231.5 L328.4 228.6 L327.8 225.6 L327.0 222.7 L326.1 219.8 L325.0 217.0 L323.7 214.3 L322.4 211.6 L321.0 208.9 L319.6 206.2 L318.1 203.5 L316.5 200.9 L314.9 198.3 L313.1 195.7 L311.2 193.3 L309.2 191.0 L306.9 188.9 L304.5 187.0 L301.9 185.3 L299.3 183.8 L296.5 182.4 L293.8 181.1 L291.0 179.9 L288.2 178.7 L285.5 177.6 L282.7 176.5 L280.0 175.4 L277.2 174.4 L274.3 173.6 L271.5 172.9 L268.6 172.3 L265.7 171.9 L262.8 171.7 L259.9 171.5 L256.9 171.5 L254.1 171.4 L251.2 171.4 L248.3 171.4 L245.4 171.4 L242.5 171.4 L239.7 171.4 L236.8 171.5 L233.8 171.7 L230.9 172.1 L228.0 172.5 L225.2 173.1 L222.3 173.8 L219.5 174.7 L216.7 175.7 L214.0 176.7 L211.3 177.9 L208.6 179.2 L206.0 180.5 L203.4 182.0 L200.9 183.6 L198.4 185.3 L196.1 187.2 L193.9 189.1 L191.7 191.2 L189.6 193.3 L187.6 195.5 L185.6 197.7 L183.7 200.0 L181.9 202.3 L180.0 204.6 L178.3 207.0 L176.6 209.5 L175.0 212.0 L173.6 214.7 L172.3 217.3 L171.1 220.1 L170.1 222.9 L169.2 225.8 L168.5 228.7 L167.8 231.6 L167.2 234.5 L166.7 237.4 L166.3 240.3 L166.0 243.3 L165.7 246.2 L165.6 249.1 L165.5 252.1 L165.6 255.0 L165.7 257.9 L165.8 260.9 L166.1 263.8 L166.3 266.7 L166.6 269.6 L167.0 272.5 L167.4 275.5 L167.9 278.4 L168.5 281.3 L169.2 284.2 L170.1 287.1 L171.1 289.9 L172.2 292.7 L173.5 295.4 L175.0 298.0 L176.5 300.5 L178.2 303.0 L179.9 305.4 L181.7 307.8 L183.6 310.1 L185.5 312.4 L187.5 314.6 L189.5 316.8 L191.7 318.9 L193.9 320.9 L196.2 322.8 L198.5 324.6 L200.9 326.3 L203.4 327.9 L206.0 329.4 L208.6 330.8 L211.3 332.1 L214.0 333.3 L216.7 334.3 L219.5 335.3 L222.4 336.1 L225.2 336.8 L228.1 337.4 L231.0 337.9 L233.9 338.2 L236.7 338.5 L239.6 338.7 L242.5 338.8 L245.4 338.8 L248.3 338.8 L251.2 338.8 L254.1 338.7 L256.9 338.5 L259.8 338.3 L262.7 338.0 L265.6 337.7 L268.5 337.3 L271.4 336.8 L274.3 336.2 L277.2 335.5 L280.0 334.8 L282.9 333.9 L285.7 332.9 L288.5 331.8 L291.3 330.6 L294.0 329.3 L296.6 327.8 L299.2 326.2 L301.7 324.4 L304.1 322.6 L306.5 320.6 L308.7 318.5 L310.9 316.4 L313.0 314.1 L314.9 311.8 L316.7 309.3 L318.4 306.7 L320.0 304.1 L321.3 301.4 L322.6 298.6 L323.7 295.7 L324.7 292.8 L325.6 290.0 L326.5 287.1 L327.3 284.2 L328.1 281.3 L328.8 278.4 L329.5 275.6 L330.1 272.7 L330.5 269.7 L330.9 266.8 L331.1 263.8 L331.2 260.9 L331.1 257.9Z" fill="#ffb400" stroke="#000" stroke-width="1.0" stroke-linejoin="round"/>
<path d="M319.4 255.0 L319.3 252.5 L319.2 250.0 L319.0 247.4 L318.8 244.9 L318.6 242.4 L318.3 239.9 L317.9 237.4 L317.5 234.9 L316.9 232.3 L316.4 229.8 L315.7 227.3 L315.0 224.9 L314.2 222.4 L313.3 219.9 L312.3 217.5 L311.2 215.1 L310.1 212.7 L308.9 210.3 L307.6 208.0 L306.1 205.7 L304.6 203.5 L302.9 201.4 L301.1 199.4 L299.2 197.6 L297.2 195.8 L295.0 194.2 L292.8 192.8 L290.5 191.5 L288.1 190.3 L285.6 189.3 L283.2 188.4 L280.6 187.6 L278.1 186.9 L275.6 186.3 L273.1 185.8 L270.6 185.3 L268.1 184.8 L265.6 184.4 L263.2 184.0 L260.7 183.6 L258.2 183.3 L255.7 183.1 L253.3 182.8 L250.8 182.7 L248.3 182.6 L245.8 182.6 L243.3 182.7 L240.8 182.9 L238.4 183.2 L235.9 183.6 L233.4 184.0 L231.0 184.5 L228.6 185.1 L226.2 185.8 L223.8 186.6 L221.4 187.4 L219.1 188.3 L216.8 189.3 L214.5 190.5 L212.3 191.7 L210.1 193.0 L208.0 194.4 L206.0 195.9 L204.0 197.5 L202.1 199.1 L200.3 200.9 L198.5 202.6 L196.8 204.5 L195.1 206.3 L193.4 208.3 L191.8 210.2 L190.3 212.2 L188.8 214.2 L187.3 216.3 L185.9 218.4 L184.6 220.6 L183.3 222.8 L182.2 225.1 L181.0 227.4 L180.0 229.7 L178.9 232.1 L177.9 234.5 L176.9 236.9 L175.9 239.4 L175.0 241.9 L174.1 244.4 L173.4 247.0 L172.8 249.6 L172.5 252.3 L172.4 255.0 L172.7 257.7 L173.2 260.3 L173.8 262.9 L174.7 265.5 L175.5 268.0 L176.5 270.5 L177.3 273.0 L178.2 275.4 L179.1 277.8 L179.9 280.3 L180.8 282.7 L181.8 285.1 L182.9 287.4 L184.2 289.6 L185.5 291.8 L187.0 293.9 L188.6 295.9 L190.3 297.8 L192.0 299.7 L193.7 301.5 L195.5 303.3 L197.3 305.1 L199.0 306.8 L200.8 308.6 L202.5 310.4 L204.3 312.2 L206.2 313.9 L208.1 315.6 L210.1 317.2 L212.1 318.7 L214.3 320.0 L216.5 321.2 L218.8 322.3 L221.2 323.2 L223.6 324.0 L226.0 324.7 L228.5 325.2 L230.9 325.7 L233.4 326.1 L235.9 326.4 L238.4 326.7 L240.9 326.9 L243.3 327.1 L245.8 327.2 L248.3 327.3 L250.8 327.3 L253.3 327.2 L255.8 327.1 L258.3 326.9 L260.7 326.6 L263.2 326.3 L265.7 325.8 L268.1 325.3 L270.6 324.7 L273.0 324.1 L275.5 323.3 L277.9 322.5 L280.3 321.7 L282.7 320.8 L285.1 319.8 L287.5 318.7 L289.8 317.5 L292.1 316.2 L294.3 314.8 L296.5 313.3 L298.5 311.7 L300.5 309.9 L302.4 308.0 L304.1 306.0 L305.8 304.0 L307.3 301.8 L308.7 299.6 L310.0 297.3 L311.2 294.9 L312.3 292.5 L313.3 290.1 L314.3 287.7 L315.1 285.2 L315.9 282.8 L316.6 280.3 L317.3 277.8 L317.8 275.2 L318.3 272.7 L318.6 270.2 L318.9 267.6 L319.1 265.1 L319.3 262.6 L319.4 260.0 L319.4 257.5Z" fill="#dcff14" stroke="#000" stroke-width="1.0" stroke-linejoin="round"/>
<path d="M170.5 270.4 L170.5 276.5 L171.4 282.6 L172.9 288.6 L175.1 294.4 L178.0 299.9 L181.5 305.0 L185.4 309.7 L189.6 314.2 L194.0 318.5 L198.6 322.6 L203.5 326.4 L208.7 329.6 L214.3 332.2 L220.2 334.1 L226.1 335.5 L232.1 336.4 L238.1 337.0 L244.1 337.4 L250.1 337.5 L256.1 337.2 L262.1 336.6 L268.0 335.7 L274.0 334.5 L280.0 333.1 L286.0 331.5 L292.1 329.4 L297.9 326.8 L303.5 323.4 L308.4 319.3 L312.8 314.5 L316.6 309.2 L319.8 303.6 L322.5 297.8 L324.6 291.7 L326.1 285.5 L327.2 279.4 L328.0 273.2 L328.7 267.1 L329.1 261.1 L329.4 255.0 L329.4 248.9 L328.9 242.8 L328.1 236.8 L327.0 230.7 L325.8 224.6 L324.4 218.4 L322.7 212.1 L320.4 206.0 L317.2 200.3 L313.3 195.1 L308.6 190.5 L303.5 186.5 L298.0 183.1 L292.2 180.3 L286.2 178.1 L280.2 176.5 L274.1 175.3 L268.0 174.3 L262.1 173.4 L256.1 172.8 L250.1 172.3 L244.1 172.3 L238.1 172.8 L232.1 173.6 L226.2 174.7 L220.3 176.1 L214.4 177.9 L208.7 180.3 L203.3 183.4 L198.4 187.2 L194.0 191.4 L189.7 195.9 L185.6 200.5 L181.7 205.2 L178.1 210.2 L175.2 215.7 L173.0 221.5 L171.5 227.5 L170.6 233.5 L170.6 239.7 L170.6 239.7 L172.7 234.1 L174.5 228.5 L176.6 223.1 L179.4 217.9 L182.8 213.2 L186.6 208.9 L190.7 204.9 L194.7 200.9 L198.6 196.8 L202.6 192.8 L206.9 189.0 L211.6 185.8 L216.7 183.2 L222.1 181.3 L227.6 179.8 L233.1 178.6 L238.7 177.8 L244.4 177.3 L250.0 177.3 L255.6 177.7 L261.2 178.4 L266.8 179.3 L272.4 180.4 L278.0 181.8 L283.5 183.7 L288.8 186.1 L293.9 189.0 L298.8 192.3 L303.4 196.1 L307.7 200.2 L311.5 204.8 L314.6 209.9 L317.1 215.3 L319.0 221.0 L320.6 226.6 L322.0 232.3 L323.1 237.9 L324.0 243.6 L324.5 249.3 L324.5 255.0 L324.2 260.7 L323.7 266.4 L323.1 272.1 L322.2 277.8 L320.9 283.5 L319.2 289.1 L316.9 294.5 L314.1 299.7 L310.8 304.7 L307.2 309.4 L303.2 313.7 L298.8 317.6 L293.9 321.0 L288.7 323.7 L283.3 325.9 L277.8 327.8 L272.3 329.3 L266.8 330.6 L261.2 331.6 L255.6 332.2 L250.0 332.5 L244.4 332.4 L238.7 332.1 L233.1 331.4 L227.5 330.4 L222.0 329.0 L216.7 326.9 L211.6 324.1 L207.0 320.8 L202.7 317.0 L198.6 313.1 L194.6 309.2 L190.5 305.3 L186.5 301.2 L182.7 296.9 L179.3 292.1 L176.6 286.9 L174.4 281.5 L172.6 275.9 L170.5 270.4Z" fill="#dcff14" stroke="#000" stroke-width="1.0" stroke-linejoin="round"/>
<path d="M311.2 255.0 L311.1 252.8 L311.0 250.6 L310.9 248.4 L310.6 246.2 L310.3 244.0 L309.9 241.9 L309.5 239.7 L309.0 237.6 L308.5 235.4 L307.9 233.3 L307.2 231.1 L306.5 229.0 L305.8 226.9 L305.0 224.8 L304.0 222.8 L303.0 220.8 L301.9 218.8 L300.7 216.9 L299.3 215.1 L297.9 213.4 L296.3 211.8 L294.7 210.3 L293.0 208.9 L291.2 207.5 L289.4 206.2 L287.6 205.0 L285.7 203.8 L283.9 202.7 L282.0 201.5 L280.1 200.4 L278.2 199.3 L276.3 198.3 L274.4 197.3 L272.4 196.5 L270.3 195.7 L268.3 195.1 L266.2 194.5 L264.0 194.1 L261.9 193.8 L259.8 193.6 L257.6 193.5 L255.5 193.5 L253.3 193.5 L251.2 193.5 L249.1 193.5 L247.0 193.6 L244.9 193.6 L242.8 193.7 L240.6 193.8 L238.5 194.0 L236.4 194.3 L234.3 194.6 L232.2 195.1 L230.1 195.6 L228.1 196.3 L226.1 197.1 L224.1 198.0 L222.2 198.9 L220.3 199.9 L218.4 201.0 L216.5 202.0 L214.6 203.1 L212.7 204.2 L210.9 205.3 L209.0 206.4 L207.1 207.6 L205.3 208.9 L203.5 210.3 L201.9 211.8 L200.3 213.4 L198.9 215.1 L197.6 217.0 L196.4 218.9 L195.4 220.9 L194.4 223.0 L193.6 225.0 L192.8 227.1 L192.0 229.2 L191.2 231.3 L190.5 233.3 L189.7 235.4 L189.0 237.5 L188.3 239.6 L187.7 241.7 L187.1 243.9 L186.6 246.1 L186.3 248.3 L186.1 250.5 L186.0 252.8 L186.1 255.0 L186.2 257.2 L186.5 259.4 L186.8 261.6 L187.2 263.8 L187.6 266.0 L188.1 268.2 L188.5 270.3 L189.0 272.5 L189.5 274.7 L190.1 276.8 L190.8 278.9 L191.5 281.0 L192.4 283.1 L193.4 285.1 L194.5 287.0 L195.7 288.9 L197.0 290.7 L198.4 292.4 L199.9 294.1 L201.4 295.6 L202.9 297.2 L204.5 298.7 L206.1 300.3 L207.6 301.8 L209.2 303.3 L210.8 304.8 L212.5 306.2 L214.2 307.5 L216.0 308.8 L217.8 310.0 L219.8 311.0 L221.8 311.9 L223.8 312.7 L225.9 313.4 L228.0 313.9 L230.1 314.4 L232.2 314.7 L234.4 315.1 L236.5 315.4 L238.6 315.7 L240.7 315.9 L242.8 316.2 L244.9 316.5 L247.0 316.7 L249.1 316.9 L251.2 317.0 L253.4 317.0 L255.5 317.0 L257.7 316.9 L259.8 316.7 L261.9 316.4 L264.1 316.0 L266.2 315.5 L268.3 314.9 L270.3 314.3 L272.4 313.6 L274.4 312.8 L276.5 312.0 L278.4 311.0 L280.4 310.0 L282.3 308.9 L284.2 307.8 L286.0 306.5 L287.7 305.2 L289.4 303.8 L291.1 302.3 L292.7 300.8 L294.2 299.2 L295.7 297.6 L297.1 295.9 L298.5 294.2 L299.9 292.5 L301.1 290.7 L302.4 288.8 L303.5 286.9 L304.6 285.0 L305.6 283.0 L306.5 281.0 L307.3 278.9 L308.0 276.8 L308.7 274.7 L309.2 272.5 L309.7 270.3 L310.1 268.2 L310.4 266.0 L310.7 263.8 L310.9 261.6 L311.0 259.4 L311.1 257.2Z" fill="#6eff00" stroke="#000" stroke-width="1.0" stroke-linejoin="round"/>
<path d="M306.3 255.0 L306.2 253.0 L306.1 251.0 L305.9 248.9 L305.6 246.9 L305.2 244.9 L304.8 243.0 L304.3 241.0 L303.8 239.1 L303.3 237.1 L302.7 235.2 L302.1 233.3 L301.4 231.4 L300.6 229.5 L299.8 227.6 L298.9 225.8 L297.9 224.0 L296.9 222.3 L295.7 220.6 L294.5 219.0 L293.2 217.4 L291.9 215.9 L290.5 214.4 L289.0 213.0 L287.5 211.7 L286.0 210.4 L284.4 209.1 L282.8 207.9 L281.1 206.8 L279.4 205.7 L277.7 204.7 L275.9 203.8 L274.1 202.9 L272.2 202.2 L270.4 201.6 L268.4 201.0 L266.5 200.5 L264.6 200.1 L262.6 199.8 L260.7 199.5 L258.8 199.3 L256.8 199.0 L254.9 198.8 L253.0 198.7 L251.0 198.6 L249.1 198.5 L247.2 198.5 L245.2 198.6 L243.3 198.8 L241.4 199.0 L239.4 199.3 L237.5 199.7 L235.6 200.0 L233.7 200.5 L231.8 200.9 L229.9 201.4 L228.0 202.0 L226.1 202.6 L224.3 203.3 L222.4 204.0 L220.6 204.9 L218.9 205.9 L217.2 206.9 L215.5 208.1 L213.9 209.2 L212.3 210.5 L210.8 211.8 L209.2 213.1 L207.7 214.4 L206.3 215.8 L204.9 217.3 L203.5 218.9 L202.3 220.5 L201.1 222.1 L200.1 223.9 L199.1 225.7 L198.2 227.5 L197.4 229.4 L196.6 231.3 L195.9 233.2 L195.2 235.1 L194.6 237.0 L193.9 238.9 L193.4 240.9 L192.9 242.9 L192.5 244.9 L192.2 246.9 L192.0 248.9 L192.0 250.9 L192.0 253.0 L192.1 255.0 L192.2 257.0 L192.4 259.0 L192.5 261.0 L192.7 263.0 L192.9 265.1 L193.1 267.1 L193.4 269.1 L193.8 271.1 L194.3 273.1 L194.9 275.0 L195.6 276.9 L196.5 278.8 L197.4 280.6 L198.4 282.4 L199.5 284.1 L200.6 285.8 L201.7 287.5 L202.8 289.2 L204.0 290.8 L205.1 292.5 L206.4 294.1 L207.7 295.6 L209.1 297.0 L210.6 298.4 L212.2 299.7 L213.8 300.9 L215.5 301.9 L217.2 303.0 L219.0 304.0 L220.7 304.9 L222.5 305.8 L224.3 306.7 L226.1 307.5 L227.9 308.3 L229.7 309.0 L231.6 309.7 L233.5 310.2 L235.5 310.6 L237.4 310.9 L239.4 311.1 L241.3 311.3 L243.3 311.4 L245.2 311.5 L247.2 311.5 L249.1 311.6 L251.0 311.5 L253.0 311.5 L254.9 311.4 L256.9 311.2 L258.8 310.9 L260.7 310.6 L262.6 310.1 L264.5 309.6 L266.4 309.0 L268.2 308.4 L270.1 307.8 L271.9 307.1 L273.8 306.4 L275.6 305.6 L277.4 304.8 L279.2 303.9 L280.9 302.9 L282.6 301.9 L284.3 300.7 L285.9 299.5 L287.4 298.2 L288.9 296.8 L290.3 295.4 L291.7 294.0 L293.1 292.5 L294.4 291.0 L295.8 289.4 L297.0 287.8 L298.2 286.2 L299.4 284.5 L300.4 282.7 L301.3 280.9 L302.1 279.0 L302.8 277.0 L303.4 275.1 L304.0 273.1 L304.4 271.1 L304.8 269.1 L305.2 267.1 L305.5 265.1 L305.8 263.1 L306.0 261.1 L306.2 259.1 L306.3 257.0Z" fill="#00ff00" stroke="#000" stroke-width="1.0" stroke-linejoin="round"/>
<path d="M303.1 255.0 L303.0 253.1 L302.9 251.2 L302.8 249.3 L302.6 247.4 L302.4 245.4 L302.2 243.5 L301.8 241.7 L301.4 239.8 L300.9 237.9 L300.3 236.1 L299.6 234.3 L298.9 232.5 L298.0 230.8 L297.1 229.1 L296.2 227.4 L295.1 225.8 L294.1 224.2 L293.0 222.6 L291.8 221.1 L290.6 219.6 L289.4 218.2 L288.1 216.7 L286.8 215.4 L285.4 214.1 L284.0 212.8 L282.5 211.6 L280.9 210.5 L279.3 209.5 L277.6 208.6 L276.0 207.7 L274.2 207.0 L272.5 206.3 L270.8 205.6 L269.0 205.0 L267.2 204.4 L265.4 203.9 L263.7 203.5 L261.9 203.0 L260.1 202.7 L258.2 202.3 L256.4 202.1 L254.6 201.8 L252.8 201.7 L250.9 201.6 L249.1 201.6 L247.3 201.6 L245.4 201.7 L243.6 201.9 L241.8 202.0 L239.9 202.3 L238.1 202.6 L236.3 202.9 L234.5 203.3 L232.7 203.7 L230.9 204.2 L229.1 204.8 L227.4 205.4 L225.6 206.1 L223.9 206.9 L222.2 207.7 L220.6 208.6 L219.0 209.6 L217.4 210.7 L215.8 211.8 L214.3 212.9 L212.9 214.1 L211.5 215.4 L210.1 216.7 L208.7 218.1 L207.5 219.5 L206.2 221.0 L205.1 222.5 L203.9 224.1 L202.9 225.7 L202.0 227.4 L201.1 229.1 L200.3 230.8 L199.5 232.6 L198.9 234.4 L198.2 236.2 L197.7 238.0 L197.2 239.9 L196.7 241.7 L196.3 243.6 L195.9 245.5 L195.6 247.4 L195.4 249.3 L195.2 251.2 L195.1 253.1 L195.0 255.0 L195.1 256.9 L195.2 258.8 L195.3 260.7 L195.6 262.6 L195.8 264.5 L196.2 266.4 L196.6 268.3 L197.0 270.2 L197.5 272.0 L198.1 273.9 L198.7 275.7 L199.3 277.5 L200.1 279.3 L200.9 281.0 L201.8 282.8 L202.7 284.4 L203.8 286.0 L204.9 287.6 L206.2 289.1 L207.4 290.5 L208.8 291.9 L210.2 293.2 L211.6 294.5 L213.0 295.7 L214.5 296.9 L216.0 298.0 L217.5 299.1 L219.1 300.2 L220.7 301.2 L222.3 302.2 L223.9 303.1 L225.6 303.9 L227.3 304.6 L229.1 305.3 L230.9 305.8 L232.7 306.3 L234.5 306.7 L236.3 307.1 L238.1 307.4 L240.0 307.6 L241.8 307.8 L243.6 308.0 L245.4 308.2 L247.3 308.3 L249.1 308.4 L250.9 308.4 L252.8 308.4 L254.6 308.3 L256.4 308.1 L258.3 307.9 L260.1 307.6 L261.9 307.2 L263.7 306.7 L265.5 306.2 L267.2 305.6 L269.0 305.0 L270.7 304.3 L272.4 303.6 L274.2 302.9 L275.9 302.1 L277.6 301.3 L279.3 300.4 L280.9 299.5 L282.5 298.5 L284.1 297.4 L285.6 296.2 L287.0 294.9 L288.4 293.5 L289.7 292.1 L290.9 290.6 L292.0 289.0 L293.0 287.4 L294.0 285.8 L295.0 284.1 L295.9 282.4 L296.8 280.8 L297.6 279.0 L298.5 277.3 L299.2 275.6 L299.9 273.8 L300.6 272.0 L301.2 270.2 L301.7 268.3 L302.1 266.4 L302.5 264.6 L302.7 262.7 L302.9 260.7 L303.0 258.8 L303.1 256.9Z" fill="#00ff78" stroke="#000" stroke-width="1.0" stroke-linejoin="round"/>
<path d="M301.2 255.0 L301.2 253.2 L301.1 251.3 L301.0 249.5 L300.7 247.6 L300.4 245.8 L300.1 244.0 L299.7 242.2 L299.3 240.4 L298.8 238.6 L298.2 236.8 L297.6 235.1 L297.0 233.4 L296.2 231.6 L295.4 230.0 L294.5 228.4 L293.6 226.8 L292.5 225.2 L291.4 223.8 L290.2 222.4 L289.0 221.0 L287.7 219.7 L286.4 218.4 L285.1 217.1 L283.8 215.9 L282.4 214.7 L280.9 213.6 L279.5 212.5 L278.0 211.5 L276.5 210.5 L274.9 209.6 L273.3 208.8 L271.7 208.0 L270.0 207.4 L268.3 206.8 L266.6 206.2 L264.9 205.7 L263.1 205.3 L261.4 204.9 L259.7 204.6 L257.9 204.3 L256.2 204.0 L254.4 203.9 L252.6 203.7 L250.9 203.7 L249.1 203.6 L247.3 203.7 L245.6 203.8 L243.8 203.9 L242.1 204.1 L240.3 204.3 L238.6 204.6 L236.8 204.9 L235.1 205.3 L233.3 205.8 L231.6 206.3 L229.9 206.8 L228.3 207.4 L226.6 208.1 L224.9 208.9 L223.3 209.7 L221.7 210.5 L220.2 211.4 L218.6 212.4 L217.1 213.4 L215.6 214.5 L214.2 215.6 L212.8 216.9 L211.5 218.1 L210.3 219.5 L209.1 220.9 L207.9 222.3 L206.8 223.8 L205.8 225.4 L204.9 226.9 L204.0 228.5 L203.1 230.1 L202.2 231.8 L201.5 233.5 L200.7 235.1 L200.0 236.9 L199.4 238.6 L198.9 240.4 L198.4 242.2 L198.1 244.0 L197.8 245.8 L197.5 247.6 L197.4 249.5 L197.3 251.3 L197.2 253.2 L197.2 255.0 L197.3 256.8 L197.3 258.7 L197.4 260.5 L197.6 262.4 L197.8 264.2 L198.1 266.0 L198.4 267.8 L198.8 269.6 L199.3 271.4 L199.9 273.2 L200.6 274.9 L201.3 276.6 L202.1 278.3 L203.0 279.9 L203.9 281.5 L204.8 283.1 L205.8 284.7 L206.8 286.2 L207.9 287.7 L209.0 289.2 L210.2 290.6 L211.5 291.9 L212.8 293.1 L214.2 294.3 L215.7 295.5 L217.2 296.5 L218.7 297.5 L220.3 298.4 L221.8 299.3 L223.4 300.1 L225.1 300.9 L226.7 301.7 L228.3 302.4 L230.0 303.1 L231.7 303.7 L233.4 304.2 L235.1 304.7 L236.8 305.1 L238.5 305.5 L240.3 305.8 L242.0 306.1 L243.8 306.2 L245.6 306.4 L247.3 306.4 L249.1 306.5 L250.9 306.4 L252.6 306.4 L254.4 306.2 L256.2 306.0 L257.9 305.8 L259.7 305.4 L261.4 305.1 L263.1 304.6 L264.8 304.2 L266.5 303.7 L268.2 303.1 L269.9 302.5 L271.6 301.8 L273.2 301.1 L274.8 300.3 L276.4 299.4 L278.0 298.5 L279.5 297.6 L281.0 296.5 L282.5 295.4 L283.9 294.3 L285.3 293.1 L286.6 291.8 L287.9 290.5 L289.2 289.2 L290.4 287.8 L291.5 286.3 L292.6 284.8 L293.6 283.2 L294.5 281.6 L295.4 280.0 L296.2 278.3 L296.9 276.6 L297.5 274.8 L298.0 273.1 L298.5 271.3 L299.0 269.5 L299.4 267.7 L299.8 265.9 L300.1 264.1 L300.4 262.3 L300.7 260.5 L300.9 258.7 L301.1 256.8Z" fill="#00ffff" stroke="#000" stroke-width="1.0" stroke-linejoin="round"/>
<path d="M299.6 255.0 L299.6 253.2 L299.6 251.4 L299.5 249.6 L299.2 247.8 L299.0 246.1 L298.6 244.3 L298.2 242.6 L297.7 240.8 L297.2 239.1 L296.6 237.4 L296.0 235.8 L295.3 234.1 L294.6 232.5 L293.8 230.9 L292.9 229.3 L292.0 227.8 L291.0 226.3 L290.0 224.8 L288.9 223.4 L287.8 222.0 L286.6 220.7 L285.4 219.4 L284.1 218.1 L282.8 216.9 L281.5 215.8 L280.1 214.7 L278.6 213.7 L277.1 212.8 L275.6 211.9 L274.0 211.1 L272.5 210.4 L270.8 209.7 L269.2 209.1 L267.6 208.5 L266.0 207.9 L264.3 207.4 L262.7 206.9 L261.0 206.5 L259.3 206.1 L257.7 205.7 L256.0 205.4 L254.3 205.2 L252.5 205.1 L250.8 205.0 L249.1 205.1 L247.4 205.2 L245.7 205.3 L244.0 205.5 L242.3 205.8 L240.6 206.1 L238.9 206.4 L237.2 206.7 L235.6 207.1 L233.9 207.5 L232.2 207.9 L230.6 208.4 L228.9 209.0 L227.3 209.6 L225.7 210.3 L224.1 211.1 L222.6 211.9 L221.1 212.8 L219.6 213.7 L218.1 214.8 L216.7 215.8 L215.4 216.9 L214.0 218.1 L212.8 219.4 L211.5 220.6 L210.3 222.0 L209.2 223.4 L208.2 224.8 L207.2 226.3 L206.2 227.8 L205.3 229.3 L204.4 230.9 L203.6 232.5 L202.8 234.1 L202.1 235.7 L201.4 237.4 L200.8 239.1 L200.3 240.8 L199.9 242.5 L199.5 244.3 L199.2 246.1 L199.0 247.9 L198.9 249.6 L198.9 251.4 L198.9 253.2 L198.9 255.0 L199.0 256.8 L199.1 258.6 L199.2 260.3 L199.4 262.1 L199.6 263.9 L199.8 265.6 L200.1 267.4 L200.5 269.1 L201.0 270.9 L201.5 272.6 L202.1 274.3 L202.8 275.9 L203.5 277.6 L204.3 279.2 L205.2 280.8 L206.1 282.3 L207.1 283.8 L208.1 285.3 L209.2 286.7 L210.3 288.1 L211.5 289.4 L212.7 290.7 L214.0 291.9 L215.4 293.0 L216.8 294.1 L218.2 295.2 L219.6 296.2 L221.1 297.1 L222.6 298.0 L224.2 298.9 L225.7 299.7 L227.3 300.4 L228.9 301.1 L230.5 301.8 L232.1 302.3 L233.8 302.8 L235.5 303.2 L237.2 303.5 L238.9 303.8 L240.6 304.0 L242.3 304.2 L244.0 304.3 L245.7 304.4 L247.4 304.5 L249.1 304.5 L250.8 304.5 L252.5 304.5 L254.2 304.5 L255.9 304.3 L257.6 304.2 L259.3 303.9 L261.0 303.6 L262.7 303.2 L264.4 302.8 L266.1 302.3 L267.7 301.8 L269.3 301.1 L270.9 300.5 L272.5 299.8 L274.1 299.0 L275.6 298.1 L277.1 297.2 L278.6 296.3 L280.0 295.2 L281.4 294.1 L282.8 293.0 L284.1 291.8 L285.3 290.6 L286.6 289.3 L287.8 288.0 L288.9 286.6 L290.0 285.2 L291.1 283.8 L292.1 282.3 L293.0 280.8 L293.9 279.2 L294.7 277.6 L295.4 275.9 L296.0 274.3 L296.6 272.6 L297.1 270.8 L297.5 269.1 L297.9 267.4 L298.3 265.6 L298.6 263.9 L298.9 262.1 L299.1 260.3 L299.4 258.6 L299.5 256.8Z" fill="#00a0ff" stroke="#000" stroke-width="1.0" stroke-linejoin="round"/>
<path d="M297.9 255.0 L297.9 253.3 L297.8 251.5 L297.6 249.8 L297.4 248.1 L297.1 246.4 L296.8 244.7 L296.4 243.0 L296.0 241.3 L295.6 239.7 L295.1 238.0 L294.5 236.4 L293.8 234.8 L293.1 233.2 L292.3 231.7 L291.5 230.2 L290.6 228.7 L289.6 227.3 L288.5 225.9 L287.5 224.6 L286.4 223.2 L285.2 222.0 L284.0 220.8 L282.8 219.6 L281.5 218.4 L280.2 217.4 L278.8 216.3 L277.4 215.4 L276.0 214.5 L274.6 213.6 L273.1 212.8 L271.6 212.0 L270.1 211.2 L268.6 210.5 L267.0 209.9 L265.5 209.3 L263.9 208.8 L262.3 208.4 L260.6 208.0 L259.0 207.7 L257.3 207.5 L255.7 207.4 L254.0 207.2 L252.4 207.2 L250.7 207.1 L249.1 207.1 L247.5 207.1 L245.8 207.1 L244.2 207.2 L242.5 207.3 L240.9 207.5 L239.2 207.8 L237.6 208.1 L236.0 208.5 L234.4 209.0 L232.8 209.5 L231.3 210.1 L229.7 210.8 L228.2 211.4 L226.7 212.1 L225.1 212.9 L223.7 213.6 L222.2 214.5 L220.7 215.4 L219.3 216.3 L217.9 217.3 L216.6 218.3 L215.3 219.4 L214.0 220.6 L212.8 221.8 L211.6 223.1 L210.5 224.4 L209.4 225.7 L208.4 227.1 L207.5 228.6 L206.6 230.1 L205.8 231.6 L205.1 233.2 L204.5 234.8 L203.9 236.4 L203.4 238.1 L202.9 239.8 L202.5 241.4 L202.0 243.1 L201.7 244.8 L201.3 246.4 L201.0 248.1 L200.7 249.8 L200.5 251.6 L200.4 253.3 L200.3 255.0 L200.3 256.7 L200.4 258.5 L200.6 260.2 L200.8 261.9 L201.0 263.6 L201.3 265.3 L201.7 267.0 L202.1 268.7 L202.6 270.4 L203.1 272.0 L203.7 273.6 L204.4 275.2 L205.1 276.8 L205.9 278.3 L206.8 279.8 L207.7 281.3 L208.7 282.7 L209.7 284.0 L210.8 285.4 L211.9 286.7 L213.0 288.0 L214.2 289.2 L215.4 290.5 L216.6 291.6 L217.9 292.7 L219.3 293.7 L220.7 294.7 L222.1 295.6 L223.6 296.5 L225.1 297.3 L226.6 298.1 L228.1 298.8 L229.6 299.4 L231.2 300.0 L232.8 300.6 L234.4 301.1 L236.0 301.5 L237.6 301.9 L239.2 302.2 L240.9 302.4 L242.5 302.6 L244.2 302.8 L245.8 302.9 L247.5 302.9 L249.1 303.0 L250.8 303.0 L252.4 303.0 L254.1 302.9 L255.7 302.8 L257.4 302.5 L259.0 302.3 L260.6 301.9 L262.2 301.4 L263.8 300.9 L265.4 300.4 L266.9 299.8 L268.5 299.1 L270.0 298.5 L271.5 297.8 L273.0 297.1 L274.5 296.3 L276.0 295.5 L277.5 294.7 L278.9 293.8 L280.3 292.8 L281.7 291.7 L283.0 290.6 L284.2 289.5 L285.5 288.2 L286.6 287.0 L287.7 285.6 L288.8 284.3 L289.8 282.8 L290.7 281.4 L291.5 279.9 L292.3 278.3 L293.0 276.8 L293.7 275.1 L294.2 273.5 L294.8 271.9 L295.3 270.2 L295.7 268.6 L296.2 266.9 L296.6 265.3 L297.0 263.6 L297.3 261.9 L297.6 260.2 L297.8 258.5 L297.9 256.7Z" fill="#003cff" stroke="#000" stroke-width="1.0" stroke-linejoin="round"/>
<path d="M305.6 332.2 L310.4 329.1 L314.8 325.5 L318.7 321.3 L322.2 316.8 L325.1 311.8 L327.6 306.7 L329.7 301.4 L331.4 296.1 L332.9 290.7 L334.1 285.3 L335.1 279.9 L335.9 274.6 L336.5 269.2 L336.9 263.9 L337.1 258.5 L337.1 253.2 L337.0 247.9 L336.7 242.5 L336.1 237.2 L335.4 231.8 L334.5 226.5 L333.4 221.1 L332.1 215.7 L330.5 210.2 L328.6 204.9 L326.4 199.6 L323.7 194.4 L320.4 189.7 L316.6 185.3 L312.3 181.5" fill="none" stroke="#50141a" stroke-width="3.6" stroke-linecap="round" opacity="0.55"/>
<path d="M305.6 332.2 L310.4 329.1 L314.8 325.5 L318.7 321.3 L322.2 316.8 L325.1 311.8 L327.6 306.7 L329.7 301.4 L331.4 296.1 L332.9 290.7 L334.1 285.3 L335.1 279.9 L335.9 274.6 L336.5 269.2 L336.9 263.9 L337.1 258.5 L337.1 253.2 L337.0 247.9 L336.7 242.5 L336.1 237.2 L335.4 231.8 L334.5 226.5 L333.4 221.1 L332.1 215.7 L330.5 210.2 L328.6 204.9 L326.4 199.6 L323.7 194.4 L320.4 189.7 L316.6 185.3 L312.3 181.5" fill="none" stroke="#ffa0a8" stroke-width="2.4" stroke-linecap="round"/>
<path d="M308.9 179.1 L308.8 179.0 L308.7 178.9 L308.6 178.9 L308.5 178.8 L308.4 178.7 L308.3 178.7 L308.2 178.6 L308.1 178.6 L308.0 178.5 L307.9 178.4 L307.8 178.4 L307.7 178.3 L307.6 178.3 L307.5 178.2 L307.4 178.2 L307.3 178.1 L307.2 178.0 L307.1 178.0 L307.0 177.9 L306.9 177.9 L306.8 177.8 L306.7 177.8 L306.6 177.7 L306.5 177.6 L306.4 177.6 L306.3 177.5 L306.2 177.5 L306.1 177.4 L306.0 177.4 L305.9 177.3" fill="none" stroke="#50141a" stroke-width="3.2" stroke-linecap="round" opacity="0.55"/>
<path d="M308.9 179.1 L308.8 179.0 L308.7 178.9 L308.6 178.9 L308.5 178.8 L308.4 178.7 L308.3 178.7 L308.2 178.6 L308.1 178.6 L308.0 178.5 L307.9 178.4 L307.8 178.4 L307.7 178.3 L307.6 178.3 L307.5 178.2 L307.4 178.2 L307.3 178.1 L307.2 178.0 L307.1 178.0 L307.0 177.9 L306.9 177.9 L306.8 177.8 L306.7 177.8 L306.6 177.7 L306.5 177.6 L306.4 177.6 L306.3 177.5 L306.2 177.5 L306.1 177.4 L306.0 177.4 L305.9 177.3" fill="none" stroke="#ffa0a8" stroke-width="2" stroke-linecap="round"/>
<path d="M302.2 175.4 L302.0 175.3 L301.9 175.2 L301.7 175.2 L301.6 175.1 L301.4 175.0 L301.3 175.0 L301.1 174.9 L301.0 174.8 L300.8 174.7 L300.6 174.7 L300.5 174.6 L300.3 174.5 L300.2 174.5 L300.0 174.4 L299.9 174.3 L299.7 174.3 L299.6 174.2 L299.4 174.1 L299.3 174.1 L299.1 174.0 L298.9 173.9 L298.8 173.9 L298.6 173.8 L298.5 173.8 L298.3 173.7 L298.2 173.6 L298.0 173.6 L297.9 173.5 L297.7 173.4 L297.5 173.4" fill="none" stroke="#50141a" stroke-width="3.2" stroke-linecap="round" opacity="0.55"/>
<path d="M302.2 175.4 L302.0 175.3 L301.9 175.2 L301.7 175.2 L301.6 175.1 L301.4 175.0 L301.3 175.0 L301.1 174.9 L301.0 174.8 L300.8 174.7 L300.6 174.7 L300.5 174.6 L300.3 174.5 L300.2 174.5 L300.0 174.4 L299.9 174.3 L299.7 174.3 L299.6 174.2 L299.4 174.1 L299.3 174.1 L299.1 174.0 L298.9 173.9 L298.8 173.9 L298.6 173.8 L298.5 173.8 L298.3 173.7 L298.2 173.6 L298.0 173.6 L297.9 173.5 L297.7 173.4 L297.5 173.4" fill="none" stroke="#ffa0a8" stroke-width="2" stroke-linecap="round"/>
<path d="M294.4 172.2 L294.2 172.2 L294.0 172.1 L293.9 172.0 L293.7 172.0 L293.5 171.9 L293.3 171.8 L293.1 171.8 L292.9 171.7 L292.8 171.7 L292.6 171.6 L292.4 171.5 L292.2 171.5 L292.0 171.4 L291.8 171.4 L291.7 171.3 L291.5 171.2 L291.3 171.2 L291.1 171.1 L290.9 171.1 L290.7 171.0 L290.6 171.0 L290.4 170.9 L290.2 170.9 L290.0 170.8 L289.8 170.7 L289.6 170.7 L289.4 170.6 L289.3 170.6 L289.1 170.5 L288.9 170.5" fill="none" stroke="#50141a" stroke-width="3.2" stroke-linecap="round" opacity="0.55"/>
<path d="M294.4 172.2 L294.2 172.2 L294.0 172.1 L293.9 172.0 L293.7 172.0 L293.5 171.9 L293.3 171.8 L293.1 171.8 L292.9 171.7 L292.8 171.7 L292.6 171.6 L292.4 171.5 L292.2 171.5 L292.0 171.4 L291.8 171.4 L291.7 171.3 L291.5 171.2 L291.3 171.2 L291.1 171.1 L290.9 171.1 L290.7 171.0 L290.6 171.0 L290.4 170.9 L290.2 170.9 L290.0 170.8 L289.8 170.7 L289.6 170.7 L289.4 170.6 L289.3 170.6 L289.1 170.5 L288.9 170.5" fill="none" stroke="#ffa0a8" stroke-width="2" stroke-linecap="round"/>
<path d="M277.1 167.6 L276.9 167.6 L276.8 167.5 L276.6 167.5 L276.5 167.5 L276.3 167.4 L276.2 167.4 L276.0 167.4 L275.8 167.4 L275.7 167.3 L275.5 167.3 L275.4 167.3 L275.2 167.2 L275.1 167.2 L274.9 167.2 L274.7 167.1 L274.6 167.1 L274.4 167.1 L274.3 167.1 L274.1 167.0 L274.0 167.0 L273.8 167.0 L273.7 167.0 L273.5 166.9 L273.3 166.9 L273.2 166.9 L273.0 166.8 L272.9 166.8 L272.7 166.8 L272.6 166.8 L272.4 166.7" fill="none" stroke="#a08088" stroke-width="1.6" stroke-linecap="round" opacity="0.8"/>
<path d="M225.0 166.7 L224.8 166.7 L224.6 166.7 L224.5 166.8 L224.3 166.8 L224.1 166.8 L223.9 166.9 L223.7 166.9 L223.5 166.9 L223.4 167.0 L223.2 167.0 L223.0 167.0 L222.8 167.1 L222.6 167.1 L222.5 167.1 L222.3 167.2 L222.1 167.2 L221.9 167.3 L221.7 167.3 L221.6 167.3 L221.4 167.4 L221.2 167.4 L221.0 167.5 L220.8 167.5 L220.6 167.5 L220.5 167.6 L220.3 167.6 L220.1 167.7 L219.9 167.7 L219.7 167.7 L219.6 167.8" fill="none" stroke="#a08088" stroke-width="1.6" stroke-linecap="round" opacity="0.8"/>
<path d="M192.8 180.2 L189.9 182.5 L187.1 185.0 L184.4 187.5 L181.8 190.2 L179.3 193.0 L176.9 195.8 L174.6 198.8 L172.4 201.9 L170.5 205.0 L168.7 208.3 L167.1 211.7 L165.6 215.1 L164.4 218.6 L163.3 222.2 L162.4 225.8 L161.7 229.4 L161.0 233.1 L160.5 236.7 L160.1 240.3 L159.8 244.0 L159.6 247.6 L159.5 251.2 L159.5 254.8 L159.5 258.5 L159.6 262.1 L159.8 265.7 L160.1 269.3 L160.5 273.0 L161.0 276.6 L161.6 280.2" fill="none" stroke="#50141a" stroke-width="3.6" stroke-linecap="round" opacity="0.55"/>
<path d="M192.8 180.2 L189.9 182.5 L187.1 185.0 L184.4 187.5 L181.8 190.2 L179.3 193.0 L176.9 195.8 L174.6 198.8 L172.4 201.9 L170.5 205.0 L168.7 208.3 L167.1 211.7 L165.6 215.1 L164.4 218.6 L163.3 222.2 L162.4 225.8 L161.7 229.4 L161.0 233.1 L160.5 236.7 L160.1 240.3 L159.8 244.0 L159.6 247.6 L159.5 251.2 L159.5 254.8 L159.5 258.5 L159.6 262.1 L159.8 265.7 L160.1 269.3 L160.5 273.0 L161.0 276.6 L161.6 280.2" fill="none" stroke="#ffa0a8" stroke-width="2.4" stroke-linecap="round"/>
<path d="M163.9 289.6 L163.9 289.9 L164.0 290.2 L164.1 290.4 L164.2 290.7 L164.3 290.9 L164.4 291.2 L164.4 291.4 L164.5 291.7 L164.6 292.0 L164.7 292.2 L164.8 292.5 L164.9 292.7 L165.0 293.0 L165.1 293.2 L165.1 293.5 L165.2 293.7 L165.3 294.0 L165.4 294.2 L165.5 294.5 L165.6 294.8 L165.7 295.0 L165.8 295.3 L165.9 295.5 L166.0 295.8 L166.1 296.0 L166.2 296.3 L166.3 296.5 L166.4 296.8 L166.5 297.0 L166.6 297.3" fill="none" stroke="#50141a" stroke-width="3.2" stroke-linecap="round" opacity="0.55"/>
<path d="M163.9 289.6 L163.9 289.9 L164.0 290.2 L164.1 290.4 L164.2 290.7 L164.3 290.9 L164.4 291.2 L164.4 291.4 L164.5 291.7 L164.6 292.0 L164.7 292.2 L164.8 292.5 L164.9 292.7 L165.0 293.0 L165.1 293.2 L165.1 293.5 L165.2 293.7 L165.3 294.0 L165.4 294.2 L165.5 294.5 L165.6 294.8 L165.7 295.0 L165.8 295.3 L165.9 295.5 L166.0 295.8 L166.1 296.0 L166.2 296.3 L166.3 296.5 L166.4 296.8 L166.5 297.0 L166.6 297.3" fill="none" stroke="#ffa0a8" stroke-width="2" stroke-linecap="round"/>
<path d="M169.5 303.1 L169.6 303.3 L169.7 303.5 L169.8 303.7 L169.9 303.8 L170.0 304.0 L170.1 304.2 L170.2 304.4 L170.4 304.6 L170.5 304.8 L170.6 305.0 L170.7 305.2 L170.8 305.3 L170.9 305.5 L171.0 305.7 L171.1 305.9 L171.2 306.1 L171.4 306.3 L171.5 306.4 L171.6 306.6 L171.7 306.8 L171.8 307.0 L171.9 307.2 L172.1 307.4 L172.2 307.5 L172.3 307.7 L172.4 307.9 L172.5 308.1 L172.7 308.3 L172.8 308.4 L172.9 308.6" fill="none" stroke="#50141a" stroke-width="3.2" stroke-linecap="round" opacity="0.55"/>
<path d="M169.5 303.1 L169.6 303.3 L169.7 303.5 L169.8 303.7 L169.9 303.8 L170.0 304.0 L170.1 304.2 L170.2 304.4 L170.4 304.6 L170.5 304.8 L170.6 305.0 L170.7 305.2 L170.8 305.3 L170.9 305.5 L171.0 305.7 L171.1 305.9 L171.2 306.1 L171.4 306.3 L171.5 306.4 L171.6 306.6 L171.7 306.8 L171.8 307.0 L171.9 307.2 L172.1 307.4 L172.2 307.5 L172.3 307.7 L172.4 307.9 L172.5 308.1 L172.7 308.3 L172.8 308.4 L172.9 308.6" fill="none" stroke="#ffa0a8" stroke-width="2" stroke-linecap="round"/>
<path d="M178.9 316.3 L179.0 316.5 L179.2 316.7 L179.4 316.9 L179.6 317.1 L179.7 317.3 L179.9 317.5 L180.1 317.7 L180.3 317.9 L180.5 318.1 L180.6 318.3 L180.8 318.5 L181.0 318.7 L181.2 318.9 L181.4 319.1 L181.6 319.3 L181.8 319.5 L181.9 319.7 L182.1 319.9 L182.3 320.1 L182.5 320.3 L182.7 320.5 L182.9 320.7 L183.1 320.9 L183.3 321.1 L183.4 321.3 L183.6 321.4 L183.8 321.6 L184.0 321.8 L184.2 322.0 L184.4 322.2" fill="none" stroke="#50141a" stroke-width="3.2" stroke-linecap="round" opacity="0.55"/>
<path d="M178.9 316.3 L179.0 316.5 L179.2 316.7 L179.4 316.9 L179.6 317.1 L179.7 317.3 L179.9 317.5 L180.1 317.7 L180.3 317.9 L180.5 318.1 L180.6 318.3 L180.8 318.5 L181.0 318.7 L181.2 318.9 L181.4 319.1 L181.6 319.3 L181.8 319.5 L181.9 319.7 L182.1 319.9 L182.3 320.1 L182.5 320.3 L182.7 320.5 L182.9 320.7 L183.1 320.9 L183.3 321.1 L183.4 321.3 L183.6 321.4 L183.8 321.6 L184.0 321.8 L184.2 322.0 L184.4 322.2" fill="none" stroke="#ffa0a8" stroke-width="2" stroke-linecap="round"/>
<path d="M187.9 325.5 L188.1 325.6 L188.2 325.7 L188.3 325.9 L188.4 326.0 L188.5 326.1 L188.7 326.2 L188.8 326.3 L188.9 326.4 L189.0 326.5 L189.1 326.6 L189.3 326.7 L189.4 326.8 L189.5 326.9 L189.6 327.0 L189.8 327.1 L189.9 327.2 L190.0 327.3 L190.1 327.4 L190.3 327.5 L190.4 327.6 L190.5 327.7 L190.6 327.8 L190.8 328.0 L190.9 328.1 L191.0 328.2 L191.1 328.3 L191.3 328.4 L191.4 328.5 L191.5 328.6 L191.6 328.7" fill="none" stroke="#50141a" stroke-width="3.2" stroke-linecap="round" opacity="0.55"/>
<path d="M187.9 325.5 L188.1 325.6 L188.2 325.7 L188.3 325.9 L188.4 326.0 L188.5 326.1 L188.7 326.2 L188.8 326.3 L188.9 326.4 L189.0 326.5 L189.1 326.6 L189.3 326.7 L189.4 326.8 L189.5 326.9 L189.6 327.0 L189.8 327.1 L189.9 327.2 L190.0 327.3 L190.1 327.4 L190.3 327.5 L190.4 327.6 L190.5 327.7 L190.6 327.8 L190.8 328.0 L190.9 328.1 L191.0 328.2 L191.1 328.3 L191.3 328.4 L191.4 328.5 L191.5 328.6 L191.6 328.7" fill="none" stroke="#ffa0a8" stroke-width="2" stroke-linecap="round"/>
<path d="M196.8 332.5 L197.0 332.6 L197.2 332.7 L197.3 332.8 L197.5 332.9 L197.6 333.0 L197.8 333.1 L197.9 333.2 L198.1 333.3 L198.3 333.4 L198.4 333.5 L198.6 333.6 L198.7 333.7 L198.9 333.8 L199.1 333.9 L199.2 334.0 L199.4 334.1 L199.5 334.2 L199.7 334.3 L199.9 334.4 L200.0 334.5 L200.2 334.6 L200.3 334.7 L200.5 334.8 L200.7 334.9 L200.8 335.0 L201.0 335.1 L201.2 335.2 L201.3 335.2 L201.5 335.3 L201.7 335.4" fill="none" stroke="#50141a" stroke-width="3.2" stroke-linecap="round" opacity="0.55"/>
<path d="M196.8 332.5 L197.0 332.6 L197.2 332.7 L197.3 332.8 L197.5 332.9 L197.6 333.0 L197.8 333.1 L197.9 333.2 L198.1 333.3 L198.3 333.4 L198.4 333.5 L198.6 333.6 L198.7 333.7 L198.9 333.8 L199.1 333.9 L199.2 334.0 L199.4 334.1 L199.5 334.2 L199.7 334.3 L199.9 334.4 L200.0 334.5 L200.2 334.6 L200.3 334.7 L200.5 334.8 L200.7 334.9 L200.8 335.0 L201.0 335.1 L201.2 335.2 L201.3 335.2 L201.5 335.3 L201.7 335.4" fill="none" stroke="#ffa0a8" stroke-width="2" stroke-linecap="round"/>
<path d="M204.5 336.9 L204.7 337.0 L204.8 337.1 L205.0 337.2 L205.2 337.2 L205.4 337.3 L205.5 337.4 L205.7 337.5 L205.9 337.6 L206.0 337.6 L206.2 337.7 L206.4 337.8 L206.5 337.9 L206.7 337.9 L206.9 338.0 L207.1 338.1 L207.2 338.2 L207.4 338.3 L207.6 338.3 L207.7 338.4 L207.9 338.5 L208.1 338.5 L208.3 338.6 L208.4 338.7 L208.6 338.8 L208.8 338.8 L209.0 338.9 L209.1 339.0 L209.3 339.0 L209.5 339.1 L209.7 339.2" fill="none" stroke="#50141a" stroke-width="3.2" stroke-linecap="round" opacity="0.55"/>
<path d="M204.5 336.9 L204.7 337.0 L204.8 337.1 L205.0 337.2 L205.2 337.2 L205.4 337.3 L205.5 337.4 L205.7 337.5 L205.9 337.6 L206.0 337.6 L206.2 337.7 L206.4 337.8 L206.5 337.9 L206.7 337.9 L206.9 338.0 L207.1 338.1 L207.2 338.2 L207.4 338.3 L207.6 338.3 L207.7 338.4 L207.9 338.5 L208.1 338.5 L208.3 338.6 L208.4 338.7 L208.6 338.8 L208.8 338.8 L209.0 338.9 L209.1 339.0 L209.3 339.0 L209.5 339.1 L209.7 339.2" fill="none" stroke="#ffa0a8" stroke-width="2" stroke-linecap="round"/>
<path d="M216.5 341.4 L216.7 341.5 L217.0 341.6 L217.3 341.6 L217.5 341.7 L217.8 341.8 L218.0 341.8 L218.3 341.9 L218.5 342.0 L218.8 342.0 L219.1 342.1 L219.3 342.2 L219.6 342.2 L219.8 342.3 L220.1 342.3 L220.3 342.4 L220.6 342.5 L220.9 342.5 L221.1 342.6 L221.4 342.6 L221.6 342.7 L221.9 342.7 L222.1 342.8 L222.4 342.8 L222.7 342.9 L222.9 342.9 L223.2 343.0 L223.4 343.0 L223.7 343.1 L224.0 343.1 L224.2 343.2" fill="none" stroke="#a08088" stroke-width="1.6" stroke-linecap="round" opacity="0.8"/>
<path d="M268.5 343.9 L268.7 343.8 L268.9 343.8 L269.1 343.8 L269.3 343.7 L269.5 343.7 L269.7 343.7 L270.0 343.6 L270.2 343.6 L270.4 343.6 L270.6 343.5 L270.8 343.5 L271.0 343.5 L271.2 343.4 L271.4 343.4 L271.6 343.4 L271.8 343.3 L272.0 343.3 L272.2 343.3 L272.4 343.2 L272.7 343.2 L272.9 343.2 L273.1 343.1 L273.3 343.1 L273.5 343.1 L273.7 343.0 L273.9 343.0 L274.1 342.9 L274.3 342.9 L274.5 342.9 L274.7 342.8" fill="none" stroke="#a08088" stroke-width="1.6" stroke-linecap="round" opacity="0.8"/>
<path d="M295.8 336.9 L296.0 336.9 L296.1 336.8 L296.3 336.8 L296.4 336.7 L296.6 336.6 L296.8 336.6 L296.9 336.5 L297.1 336.4 L297.2 336.4 L297.4 336.3 L297.5 336.3 L297.7 336.2 L297.8 336.1 L298.0 336.1 L298.1 336.0 L298.3 335.9 L298.4 335.9 L298.6 335.8 L298.7 335.7 L298.9 335.7 L299.0 335.6 L299.2 335.5 L299.4 335.5 L299.5 335.4 L299.7 335.3 L299.8 335.3 L300.0 335.2 L300.1 335.1 L300.3 335.0 L300.4 335.0" fill="none" stroke="#50141a" stroke-width="3.2" stroke-linecap="round" opacity="0.55"/>
<path d="M295.8 336.9 L296.0 336.9 L296.1 336.8 L296.3 336.8 L296.4 336.7 L296.6 336.6 L296.8 336.6 L296.9 336.5 L297.1 336.4 L297.2 336.4 L297.4 336.3 L297.5 336.3 L297.7 336.2 L297.8 336.1 L298.0 336.1 L298.1 336.0 L298.3 335.9 L298.4 335.9 L298.6 335.8 L298.7 335.7 L298.9 335.7 L299.0 335.6 L299.2 335.5 L299.4 335.5 L299.5 335.4 L299.7 335.3 L299.8 335.3 L300.0 335.2 L300.1 335.1 L300.3 335.0 L300.4 335.0" fill="none" stroke="#ffa0a8" stroke-width="2" stroke-linecap="round"/>
<ellipse cx="232.2" cy="225.4" rx="1.3" ry="1.4" transform="rotate(0 232.2 225.4)" fill="#003cff" stroke="#000" stroke-width="0.8"/>
<ellipse cx="248.8" cy="237.6" rx="1.3" ry="1.5" transform="rotate(0 248.8 237.6)" fill="#003cff" stroke="#000" stroke-width="0.8"/>
<ellipse cx="265.3" cy="225.2" rx="1.6" ry="1.1" transform="rotate(0 265.3 225.2)" fill="#003cff" stroke="#000" stroke-width="0.8"/>
<ellipse cx="272.5" cy="233.1" rx="1.4" ry="1.6" transform="rotate(0 272.5 233.1)" fill="#00a0ff" stroke="#000" stroke-width="0.8"/>
<ellipse cx="260.8" cy="232.7" rx="0.6" ry="0.6" transform="rotate(0 260.8 232.7)" fill="#0a00c8" stroke="#000" stroke-width="0.3"/>
<ellipse cx="269.4" cy="253.1" rx="2.4" ry="1.5" transform="rotate(15 269.4 253.1)" fill="#00a0ff" stroke="#000" stroke-width="0.8"/>
<ellipse cx="264.9" cy="265.8" rx="0.8" ry="0.8" transform="rotate(0 264.9 265.8)" fill="#0a00c8" stroke="#000" stroke-width="0.3"/>
<ellipse cx="215.7" cy="269.9" rx="0.8" ry="0.8" transform="rotate(0 215.7 269.9)" fill="#0a00c8" stroke="#000" stroke-width="0.3"/>
<ellipse cx="237.8" cy="275.5" rx="3.4" ry="1.6" transform="rotate(50 237.8 275.5)" fill="#00a0ff" stroke="#000" stroke-width="0.8"/>
<ellipse cx="226" cy="282.1" rx="2.3" ry="1" transform="rotate(0 226 282.1)" fill="#00a0ff" stroke="#000" stroke-width="0.8"/>
<ellipse cx="232.2" cy="286.2" rx="1.3" ry="1.2" transform="rotate(0 232.2 286.2)" fill="#003cff" stroke="#000" stroke-width="0.8"/>
<ellipse cx="244.6" cy="290" rx="5.6" ry="1.4" transform="rotate(-5 244.6 290)" fill="#00a0ff" stroke="#000" stroke-width="0.8"/>
<ellipse cx="257" cy="290.4" rx="1.6" ry="0.6" transform="rotate(0 257 290.4)" fill="#0a00c8" stroke="#000" stroke-width="0.3"/>
<ellipse cx="219.4" cy="290.4" rx="1" ry="0.7" transform="rotate(0 219.4 290.4)" fill="#0a00c8" stroke="#000" stroke-width="0.3"/>
<ellipse cx="280.8" cy="286.4" rx="0.7" ry="0.7" transform="rotate(0 280.8 286.4)" fill="#0a00c8" stroke="#000" stroke-width="0.3"/>
<ellipse cx="208.4" cy="238.3" rx="0.7" ry="2.6" transform="rotate(0 208.4 238.3)" fill="#0a00c8" stroke="#000" stroke-width="0.3"/>
<ellipse cx="207.8" cy="274.4" rx="0.7" ry="2.6" transform="rotate(0 207.8 274.4)" fill="#0a00c8" stroke="#000" stroke-width="0.3"/>
<ellipse cx="289" cy="274.4" rx="0.7" ry="2.6" transform="rotate(0 289 274.4)" fill="#0a00c8" stroke="#000" stroke-width="0.3"/>
<ellipse cx="292.2" cy="260" rx="0.7" ry="3" transform="rotate(0 292.2 260)" fill="#0a00c8" stroke="#000" stroke-width="0.3"/>
<ellipse cx="215.7" cy="224.8" rx="0.7" ry="2" transform="rotate(40 215.7 224.8)" fill="#0a00c8" stroke="#000" stroke-width="0.3"/>
<ellipse cx="250.8" cy="208.6" rx="3.5" ry="0.8" transform="rotate(0 250.8 208.6)" fill="#0a00c8" stroke="#000" stroke-width="0.3"/>
<ellipse cx="235" cy="212.6" rx="2.5" ry="0.6" transform="rotate(-10 235 212.6)" fill="#0a00c8" stroke="#000" stroke-width="0.3"/>
<ellipse cx="226" cy="217.5" rx="1.8" ry="0.6" transform="rotate(-25 226 217.5)" fill="#0a00c8" stroke="#000" stroke-width="0.3"/>
<path d="M507.4 247.9L509.8 251.6L508.9 254.4L507.4 256.5L505.9 254.4L505.0 251.6Z" fill="#1436e6" stroke="#000" stroke-width="1.1" stroke-linejoin="round"/>
<rect x="135" y="127.0" width="1" height="257.5" fill="#fff" opacity="0.13"/>
<rect x="139" y="127.0" width="1" height="257.5" fill="#fff" opacity="0.18"/>
<rect x="143" y="127.0" width="1" height="257.5" fill="#fff" opacity="0.19"/>
<rect x="147" y="127.0" width="1" height="257.5" fill="#fff" opacity="0.19"/>
<rect x="151" y="127.0" width="1" height="257.5" fill="#fff" opacity="0.19"/>
<rect x="155" y="127.0" width="1" height="257.5" fill="#fff" opacity="0.19"/>
<rect x="159" y="127.0" width="1" height="257.5" fill="#fff" opacity="0.19"/>
<rect x="163" y="127.0" width="1" height="257.5" fill="#fff" opacity="0.19"/>
<rect x="167" y="127.0" width="1" height="257.5" fill="#fff" opacity="0.19"/>
<rect x="171" y="127.0" width="1" height="257.5" fill="#fff" opacity="0.19"/>
<rect x="175" y="127.0" width="1" height="257.5" fill="#fff" opacity="0.19"/>
<rect x="179" y="127.0" width="1" height="257.5" fill="#fff" opacity="0.19"/>
<rect x="183" y="127.0" width="1" height="257.5" fill="#fff" opacity="0.14"/>
<rect x="223" y="127.0" width="1" height="257.5" fill="#fff" opacity="0.14"/>
<rect x="227" y="127.0" width="1" height="257.5" fill="#fff" opacity="0.19"/>
<rect x="231" y="127.0" width="1" height="257.5" fill="#fff" opacity="0.19"/>
<rect x="235" y="127.0" width="1" height="257.5" fill="#fff" opacity="0.19"/>
<rect x="239" y="127.0" width="1" height="257.5" fill="#fff" opacity="0.19"/>
<rect x="243" y="127.0" width="1" height="257.5" fill="#fff" opacity="0.19"/>
<rect x="247" y="127.0" width="1" height="257.5" fill="#fff" opacity="0.19"/>
<rect x="251" y="127.0" width="1" height="257.5" fill="#fff" opacity="0.19"/>
<rect x="255" y="127.0" width="1" height="257.5" fill="#fff" opacity="0.19"/>
<rect x="259" y="127.0" width="1" height="257.5" fill="#fff" opacity="0.19"/>
<rect x="263" y="127.0" width="1" height="257.5" fill="#fff" opacity="0.19"/>
<rect x="267" y="127.0" width="1" height="257.5" fill="#fff" opacity="0.17"/>
<rect x="271" y="127.0" width="1" height="257.5" fill="#fff" opacity="0.13"/>
<rect x="311" y="127.0" width="1" height="257.5" fill="#fff" opacity="0.15"/>
<rect x="315" y="127.0" width="1" height="257.5" fill="#fff" opacity="0.19"/>
<rect x="320" y="127.0" width="1" height="257.5" fill="#fff" opacity="0.19"/>
<rect x="324" y="127.0" width="1" height="257.5" fill="#fff" opacity="0.19"/>
<rect x="328" y="127.0" width="1" height="257.5" fill="#fff" opacity="0.19"/>
<rect x="332" y="127.0" width="1" height="257.5" fill="#fff" opacity="0.19"/>
<rect x="336" y="127.0" width="1" height="257.5" fill="#fff" opacity="0.19"/>
<rect x="340" y="127.0" width="1" height="257.5" fill="#fff" opacity="0.19"/>
<rect x="344" y="127.0" width="1" height="257.5" fill="#fff" opacity="0.19"/>
<rect x="348" y="127.0" width="1" height="257.5" fill="#fff" opacity="0.19"/>
<rect x="352" y="127.0" width="1" height="257.5" fill="#fff" opacity="0.19"/>
<rect x="356" y="127.0" width="1" height="257.5" fill="#fff" opacity="0.16"/>
<rect x="360" y="127.0" width="1" height="257.5" fill="#fff" opacity="0.11"/>
<rect x="400" y="127.0" width="1" height="257.5" fill="#fff" opacity="0.16"/>
<rect x="404" y="127.0" width="1" height="257.5" fill="#fff" opacity="0.19"/>
<rect x="408" y="127.0" width="1" height="257.5" fill="#fff" opacity="0.19"/>
<rect x="412" y="127.0" width="1" height="257.5" fill="#fff" opacity="0.19"/>
<rect x="416" y="127.0" width="1" height="257.5" fill="#fff" opacity="0.19"/>
<rect x="420" y="127.0" width="1" height="257.5" fill="#fff" opacity="0.19"/>
<rect x="424" y="127.0" width="1" height="257.5" fill="#fff" opacity="0.19"/>
<rect x="428" y="127.0" width="1" height="257.5" fill="#fff" opacity="0.19"/>
<rect x="432" y="127.0" width="1" height="257.5" fill="#fff" opacity="0.19"/>
<rect x="436" y="127.0" width="1" height="257.5" fill="#fff" opacity="0.19"/>
<rect x="440" y="127.0" width="1" height="257.5" fill="#fff" opacity="0.19"/>
<rect x="444" y="127.0" width="1" height="257.5" fill="#fff" opacity="0.15"/>
<rect x="488" y="127.0" width="1" height="257.5" fill="#fff" opacity="0.15"/>
<rect x="492" y="127.0" width="1" height="257.5" fill="#fff" opacity="0.19"/>
<rect x="496" y="127.0" width="1" height="257.5" fill="#fff" opacity="0.19"/>
<rect x="500" y="127.0" width="1" height="257.5" fill="#fff" opacity="0.19"/>
<rect x="504" y="127.0" width="1" height="257.5" fill="#fff" opacity="0.19"/>
<rect x="508" y="127.0" width="1" height="257.5" fill="#fff" opacity="0.19"/>
<rect x="512" y="127.0" width="1" height="257.5" fill="#fff" opacity="0.19"/>
<rect x="516" y="127.0" width="1" height="257.5" fill="#fff" opacity="0.19"/>
<rect x="520" y="127.0" width="1" height="257.5" fill="#fff" opacity="0.19"/>
<rect x="525" y="127.0" width="1" height="257.5" fill="#fff" opacity="0.19"/>
<rect x="529" y="127.0" width="1" height="257.5" fill="#fff" opacity="0.19"/>
<rect x="533" y="127.0" width="1" height="257.5" fill="#fff" opacity="0.17"/>
<rect x="537" y="127.0" width="1" height="257.5" fill="#fff" opacity="0.12"/>
<rect x="573" y="127.0" width="1" height="257.5" fill="#fff" opacity="0.13"/>
<rect x="577" y="127.0" width="1" height="257.5" fill="#fff" opacity="0.18"/>
<rect x="581" y="127.0" width="1" height="257.5" fill="#fff" opacity="0.19"/>
<rect x="585" y="127.0" width="1" height="257.5" fill="#fff" opacity="0.19"/>
<rect x="589" y="127.0" width="1" height="257.5" fill="#fff" opacity="0.19"/>
<rect x="593" y="127.0" width="1" height="257.5" fill="#fff" opacity="0.19"/>
<rect x="597" y="127.0" width="1" height="257.5" fill="#fff" opacity="0.19"/>
<rect x="601" y="127.0" width="1" height="257.5" fill="#fff" opacity="0.19"/>
<rect x="605" y="127.0" width="1" height="257.5" fill="#fff" opacity="0.19"/>
<rect x="609" y="127.0" width="1" height="257.5" fill="#fff" opacity="0.19"/>
<rect x="613" y="127.0" width="1" height="257.5" fill="#fff" opacity="0.19"/>
<rect x="617" y="127.0" width="1" height="257.5" fill="#fff" opacity="0.18"/>
<rect x="621" y="127.0" width="1" height="257.5" fill="#fff" opacity="0.13"/>
<rect x="118.5" y="131" width="514.7" height="1" fill="#fff" opacity="0.12"/>
<rect x="118.5" y="135" width="514.7" height="1" fill="#fff" opacity="0.19"/>
<rect x="118.5" y="139" width="514.7" height="1" fill="#fff" opacity="0.19"/>
<rect x="118.5" y="143" width="514.7" height="1" fill="#fff" opacity="0.19"/>
<rect x="118.5" y="147" width="514.7" height="1" fill="#fff" opacity="0.19"/>
<rect x="118.5" y="151" width="514.7" height="1" fill="#fff" opacity="0.19"/>
<rect x="118.5" y="155" width="514.7" height="1" fill="#fff" opacity="0.19"/>
<rect x="118.5" y="159" width="514.7" height="1" fill="#fff" opacity="0.12"/>
<rect x="118.5" y="184" width="514.7" height="1" fill="#fff" opacity="0.13"/>
<rect x="118.5" y="188" width="514.7" height="1" fill="#fff" opacity="0.19"/>
<rect x="118.5" y="192" width="514.7" height="1" fill="#fff" opacity="0.19"/>
<rect x="118.5" y="196" width="514.7" height="1" fill="#fff" opacity="0.19"/>
<rect x="118.5" y="200" width="514.7" height="1" fill="#fff" opacity="0.19"/>
<rect x="118.5" y="204" width="514.7" height="1" fill="#fff" opacity="0.19"/>
<rect x="118.5" y="208" width="514.7" height="1" fill="#fff" opacity="0.19"/>
<rect x="118.5" y="212" width="514.7" height="1" fill="#fff" opacity="0.15"/>
<rect x="118.5" y="237" width="514.7" height="1" fill="#fff" opacity="0.15"/>
<rect x="118.5" y="241" width="514.7" height="1" fill="#fff" opacity="0.19"/>
<rect x="118.5" y="245" width="514.7" height="1" fill="#fff" opacity="0.19"/>
<rect x="118.5" y="249" width="514.7" height="1" fill="#fff" opacity="0.19"/>
<rect x="118.5" y="253" width="514.7" height="1" fill="#fff" opacity="0.19"/>
<rect x="118.5" y="257" width="514.7" height="1" fill="#fff" opacity="0.19"/>
<rect x="118.5" y="261" width="514.7" height="1" fill="#fff" opacity="0.13"/>
<rect x="118.5" y="289" width="514.7" height="1" fill="#fff" opacity="0.19"/>
<rect x="118.5" y="293" width="514.7" height="1" fill="#fff" opacity="0.19"/>
<rect x="118.5" y="298" width="514.7" height="1" fill="#fff" opacity="0.19"/>
<rect x="118.5" y="302" width="514.7" height="1" fill="#fff" opacity="0.19"/>
<rect x="118.5" y="306" width="514.7" height="1" fill="#fff" opacity="0.19"/>
<rect x="118.5" y="310" width="514.7" height="1" fill="#fff" opacity="0.18"/>
<rect x="118.5" y="334" width="514.7" height="1" fill="#fff" opacity="0.11"/>
<rect x="118.5" y="338" width="514.7" height="1" fill="#fff" opacity="0.19"/>
<rect x="118.5" y="342" width="514.7" height="1" fill="#fff" opacity="0.19"/>
<rect x="118.5" y="346" width="514.7" height="1" fill="#fff" opacity="0.19"/>
<rect x="118.5" y="350" width="514.7" height="1" fill="#fff" opacity="0.19"/>
<rect x="118.5" y="354" width="514.7" height="1" fill="#fff" opacity="0.19"/>
<rect x="118.5" y="358" width="514.7" height="1" fill="#fff" opacity="0.19"/>
<rect x="118.5" y="362" width="514.7" height="1" fill="#fff" opacity="0.17"/>
<rect x="118.5" y="126.8" width="514.7" height="1.1" fill="#12001e" opacity="0.9"/>
<rect x="118.5" y="383.9" width="514.7" height="0.9" fill="#12001e" opacity="0.5"/>
<rect x="118.1" y="127.0" width="0.8" height="257.5" fill="#333" opacity="0.35"/>
<rect x="633.0" y="127.0" width="0.8" height="257.5" fill="#333" opacity="0.35"/>
<path d="M118.7 127.0v7.4M118.7 384.5v-7.4" stroke="#000" stroke-width="1.3"/>
<path d="M133.1 127.0v3.2M133.1 384.5v-3.2" stroke="#000" stroke-width="0.7"/>
<path d="M147.5 127.0v3.2M147.5 384.5v-3.2" stroke="#000" stroke-width="0.7"/>
<path d="M161.9 127.0v3.2M161.9 384.5v-3.2" stroke="#000" stroke-width="0.7"/>
<path d="M176.3 127.0v3.2M176.3 384.5v-3.2" stroke="#000" stroke-width="0.7"/>
<path d="M190.7 127.0v7.4M190.7 384.5v-7.4" stroke="#000" stroke-width="1.3"/>
<path d="M205.1 127.0v3.2M205.1 384.5v-3.2" stroke="#000" stroke-width="0.7"/>
<path d="M219.5 127.0v3.2M219.5 384.5v-3.2" stroke="#000" stroke-width="0.7"/>
<path d="M233.9 127.0v3.2M233.9 384.5v-3.2" stroke="#000" stroke-width="0.7"/>
<path d="M248.3 127.0v3.2M248.3 384.5v-3.2" stroke="#000" stroke-width="0.7"/>
<path d="M262.7 127.0v7.4M262.7 384.5v-7.4" stroke="#000" stroke-width="1.3"/>
<path d="M277.1 127.0v3.2M277.1 384.5v-3.2" stroke="#000" stroke-width="0.7"/>
<path d="M291.5 127.0v3.2M291.5 384.5v-3.2" stroke="#000" stroke-width="0.7"/>
<path d="M305.9 127.0v3.2M305.9 384.5v-3.2" stroke="#000" stroke-width="0.7"/>
<path d="M320.3 127.0v3.2M320.3 384.5v-3.2" stroke="#000" stroke-width="0.7"/>
<path d="M334.7 127.0v7.4M334.7 384.5v-7.4" stroke="#000" stroke-width="1.3"/>
<path d="M349.1 127.0v3.2M349.1 384.5v-3.2" stroke="#000" stroke-width="0.7"/>
<path d="M363.5 127.0v3.2M363.5 384.5v-3.2" stroke="#000" stroke-width="0.7"/>
<path d="M377.9 127.0v3.2M377.9 384.5v-3.2" stroke="#000" stroke-width="0.7"/>
<path d="M392.3 127.0v3.2M392.3 384.5v-3.2" stroke="#000" stroke-width="0.7"/>
<path d="M406.7 127.0v7.4M406.7 384.5v-7.4" stroke="#000" stroke-width="1.3"/>
<path d="M421.1 127.0v3.2M421.1 384.5v-3.2" stroke="#000" stroke-width="0.7"/>
<path d="M435.5 127.0v3.2M435.5 384.5v-3.2" stroke="#000" stroke-width="0.7"/>
<path d="M449.9 127.0v3.2M449.9 384.5v-3.2" stroke="#000" stroke-width="0.7"/>
<path d="M464.3 127.0v3.2M464.3 384.5v-3.2" stroke="#000" stroke-width="0.7"/>
<path d="M478.7 127.0v7.4M478.7 384.5v-7.4" stroke="#000" stroke-width="1.3"/>
<path d="M493.1 127.0v3.2M493.1 384.5v-3.2" stroke="#000" stroke-width="0.7"/>
<path d="M507.5 127.0v3.2M507.5 384.5v-3.2" stroke="#000" stroke-width="0.7"/>
<path d="M521.9 127.0v3.2M521.9 384.5v-3.2" stroke="#000" stroke-width="0.7"/>
<path d="M536.3 127.0v3.2M536.3 384.5v-3.2" stroke="#000" stroke-width="0.7"/>
<path d="M550.7 127.0v7.4M550.7 384.5v-7.4" stroke="#000" stroke-width="1.3"/>
<path d="M565.1 127.0v3.2M565.1 384.5v-3.2" stroke="#000" stroke-width="0.7"/>
<path d="M579.5 127.0v3.2M579.5 384.5v-3.2" stroke="#000" stroke-width="0.7"/>
<path d="M593.9 127.0v3.2M593.9 384.5v-3.2" stroke="#000" stroke-width="0.7"/>
<path d="M608.3 127.0v3.2M608.3 384.5v-3.2" stroke="#000" stroke-width="0.7"/>
<path d="M622.7 127.0v7.4M622.7 384.5v-7.4" stroke="#000" stroke-width="1.3"/>
<path d="M118.5 372.0h3.2M633.2 372.0h-3.2" stroke="#000" stroke-width="0.7"/>
<path d="M118.5 357.4h3.2M633.2 357.4h-3.2" stroke="#000" stroke-width="0.7"/>
<path d="M118.5 342.8h3.2M633.2 342.8h-3.2" stroke="#000" stroke-width="0.7"/>
<path d="M118.5 328.1h7.4M633.2 328.1h-7.4" stroke="#000" stroke-width="1.3"/>
<path d="M118.5 313.5h3.2M633.2 313.5h-3.2" stroke="#000" stroke-width="0.7"/>
<path d="M118.5 298.9h3.2M633.2 298.9h-3.2" stroke="#000" stroke-width="0.7"/>
<path d="M118.5 284.2h3.2M633.2 284.2h-3.2" stroke="#000" stroke-width="0.7"/>
<path d="M118.5 269.6h3.2M633.2 269.6h-3.2" stroke="#000" stroke-width="0.7"/>
<path d="M118.5 255.0h7.4M633.2 255.0h-7.4" stroke="#000" stroke-width="1.3"/>
<path d="M118.5 240.4h3.2M633.2 240.4h-3.2" stroke="#000" stroke-width="0.7"/>
<path d="M118.5 225.8h3.2M633.2 225.8h-3.2" stroke="#000" stroke-width="0.7"/>
<path d="M118.5 211.1h3.2M633.2 211.1h-3.2" stroke="#000" stroke-width="0.7"/>
<path d="M118.5 196.5h3.2M633.2 196.5h-3.2" stroke="#000" stroke-width="0.7"/>
<path d="M118.5 181.9h7.4M633.2 181.9h-7.4" stroke="#000" stroke-width="1.3"/>
<path d="M118.5 167.2h3.2M633.2 167.2h-3.2" stroke="#000" stroke-width="0.7"/>
<path d="M118.5 152.6h3.2M633.2 152.6h-3.2" stroke="#000" stroke-width="0.7"/>
<path d="M118.5 138.0h3.2M633.2 138.0h-3.2" stroke="#000" stroke-width="0.7"/>
<g transform="translate(168.5 198.5) rotate(-48) scale(0.94)" fill="none" stroke="#000" stroke-width="1.08" stroke-linecap="round" stroke-linejoin="round"><path d="M1 1.9L3.2 0V10" transform="translate(-13.20 -5.00)"/><path d="M3 0C1.2 0 0 1.9 0 5S1.2 10 3 10S6 8.1 6 5S4.8 0 3 0Z" transform="translate(-4.80 -5.00)"/><path d="M3 0C1.2 0 0 1.9 0 5S1.2 10 3 10S6 8.1 6 5S4.8 0 3 0Z" transform="translate(3.60 -5.00)"/><path d="M.3 9.3H1V10H.3Z" transform="translate(12.00 -5.00)"/></g>
<g transform="translate(184.6 197.4) rotate(-52) scale(0.94)" fill="none" stroke="#000" stroke-width="1.08" stroke-linecap="round" stroke-linejoin="round"><path d="M3 0C1.4 0 .6 .9 .6 2.2S1.6 4.2 3 4.5C4.6 4.9 6 5.8 6 7.4S4.8 10 3 10S0 9 0 7.4S1.4 4.9 3 4.5C4.4 4.2 5.4 3.5 5.4 2.2S4.6 0 3 0Z" transform="translate(-13.20 -5.00)"/><path d="M3 0C1.2 0 0 1.9 0 5S1.2 10 3 10S6 8.1 6 5S4.8 0 3 0Z" transform="translate(-4.80 -5.00)"/><path d="M.3 9.3H1V10H.3Z" transform="translate(3.60 -5.00)"/><path d="M3 0C1.2 0 0 1.9 0 5S1.2 10 3 10S6 8.1 6 5S4.8 0 3 0Z" transform="translate(7.20 -5.00)"/></g>
<g transform="translate(204.3 190.3) rotate(-30) scale(0.94)" fill="none" stroke="#000" stroke-width="1.08" stroke-linecap="round" stroke-linejoin="round"><path d="M3 0C1.4 0 .6 .9 .6 2.2S1.6 4.2 3 4.5C4.6 4.9 6 5.8 6 7.4S4.8 10 3 10S0 9 0 7.4S1.4 4.9 3 4.5C4.4 4.2 5.4 3.5 5.4 2.2S4.6 0 3 0Z" transform="translate(-13.20 -5.00)"/><path d="M3 0C1.2 0 0 1.9 0 5S1.2 10 3 10S6 8.1 6 5S4.8 0 3 0Z" transform="translate(-4.80 -5.00)"/><path d="M.3 9.3H1V10H.3Z" transform="translate(3.60 -5.00)"/><path d="M3 0C1.2 0 0 1.9 0 5S1.2 10 3 10S6 8.1 6 5S4.8 0 3 0Z" transform="translate(7.20 -5.00)"/></g>
<g transform="translate(222 186.3) rotate(-22) scale(0.94)" fill="none" stroke="#000" stroke-width="1.08" stroke-linecap="round" stroke-linejoin="round"><path d="M3 0C1.4 0 .6 .9 .6 2.2S1.6 4.2 3 4.5C4.6 4.9 6 5.8 6 7.4S4.8 10 3 10S0 9 0 7.4S1.4 4.9 3 4.5C4.4 4.2 5.4 3.5 5.4 2.2S4.6 0 3 0Z" transform="translate(-13.20 -5.00)"/><path d="M3 0C1.2 0 0 1.9 0 5S1.2 10 3 10S6 8.1 6 5S4.8 0 3 0Z" transform="translate(-4.80 -5.00)"/><path d="M.3 9.3H1V10H.3Z" transform="translate(3.60 -5.00)"/><path d="M3 0C1.2 0 0 1.9 0 5S1.2 10 3 10S6 8.1 6 5S4.8 0 3 0Z" transform="translate(7.20 -5.00)"/></g>
<g transform="translate(265 201) rotate(17) scale(0.94)" fill="none" stroke="#000" stroke-width="1.08" stroke-linecap="round" stroke-linejoin="round"><path d="M5.4 1.4C5.1 .5 4.3 0 3.2 0C1.2 0 0 2 0 5.5C0 8.5 1.2 10 3 10S6 8.7 6 6.8S4.8 3.7 3 3.7S0 5 0 6.5" transform="translate(-13.20 -5.00)"/><path d="M3 0C1.2 0 0 1.9 0 5S1.2 10 3 10S6 8.1 6 5S4.8 0 3 0Z" transform="translate(-4.80 -5.00)"/><path d="M.3 9.3H1V10H.3Z" transform="translate(3.60 -5.00)"/><path d="M3 0C1.2 0 0 1.9 0 5S1.2 10 3 10S6 8.1 6 5S4.8 0 3 0Z" transform="translate(7.20 -5.00)"/></g>
<g transform="translate(271 211.6) rotate(35) scale(0.94)" fill="none" stroke="#000" stroke-width="1.08" stroke-linecap="round" stroke-linejoin="round"><path d="M4.3 0L0 6.7H6.4M4.3 0V10" transform="translate(-13.20 -5.00)"/><path d="M3 0C1.2 0 0 1.9 0 5S1.2 10 3 10S6 8.1 6 5S4.8 0 3 0Z" transform="translate(-4.80 -5.00)"/><path d="M.3 9.3H1V10H.3Z" transform="translate(3.60 -5.00)"/><path d="M3 0C1.2 0 0 1.9 0 5S1.2 10 3 10S6 8.1 6 5S4.8 0 3 0Z" transform="translate(7.20 -5.00)"/></g>
<g transform="translate(281.4 227.4) rotate(50) scale(0.94)" fill="none" stroke="#000" stroke-width="1.08" stroke-linecap="round" stroke-linejoin="round"><path d="M.3 2.4C.3 .9 1.3 0 3 0S5.7 .9 5.7 2.4C5.7 3.8 4.8 4.8 0 10H6" transform="translate(-13.20 -5.00)"/><path d="M3 0C1.2 0 0 1.9 0 5S1.2 10 3 10S6 8.1 6 5S4.8 0 3 0Z" transform="translate(-4.80 -5.00)"/><path d="M.3 9.3H1V10H.3Z" transform="translate(3.60 -5.00)"/><path d="M3 0C1.2 0 0 1.9 0 5S1.2 10 3 10S6 8.1 6 5S4.8 0 3 0Z" transform="translate(7.20 -5.00)"/></g>
<g transform="translate(124.2 256.6) rotate(-88) scale(0.94)" fill="none" stroke="#000" stroke-width="1.08" stroke-linecap="round" stroke-linejoin="round"><path d="M3 0C1.2 0 0 1.9 0 5S1.2 10 3 10S6 8.1 6 5S4.8 0 3 0Z" transform="translate(-13.20 -5.00)"/><path d="M.3 9.3H1V10H.3Z" transform="translate(-4.80 -5.00)"/><path d="M3 0C1.2 0 0 1.9 0 5S1.2 10 3 10S6 8.1 6 5S4.8 0 3 0Z" transform="translate(-1.20 -5.00)"/><path d="M3 0C1.2 0 0 1.9 0 5S1.2 10 3 10S6 8.1 6 5S4.8 0 3 0Z" transform="translate(7.20 -5.00)"/></g>
<g transform="translate(130.8 254) rotate(-84) scale(0.94)" fill="none" stroke="#000" stroke-width="1.08" stroke-linecap="round" stroke-linejoin="round"><path d="M.3 2.4C.3 .9 1.3 0 3 0S5.7 .9 5.7 2.4C5.7 3.8 4.8 4.8 0 10H6" transform="translate(-13.20 -5.00)"/><path d="M3 0C1.2 0 0 1.9 0 5S1.2 10 3 10S6 8.1 6 5S4.8 0 3 0Z" transform="translate(-4.80 -5.00)"/><path d="M.3 9.3H1V10H.3Z" transform="translate(3.60 -5.00)"/><path d="M3 0C1.2 0 0 1.9 0 5S1.2 10 3 10S6 8.1 6 5S4.8 0 3 0Z" transform="translate(7.20 -5.00)"/></g>
<g transform="translate(134.5 245) rotate(-84) scale(0.94)" fill="none" stroke="#000" stroke-width="1.08" stroke-linecap="round" stroke-linejoin="round"><path d="M4.3 0L0 6.7H6.4M4.3 0V10" transform="translate(-13.20 -5.00)"/><path d="M3 0C1.2 0 0 1.9 0 5S1.2 10 3 10S6 8.1 6 5S4.8 0 3 0Z" transform="translate(-4.80 -5.00)"/><path d="M.3 9.3H1V10H.3Z" transform="translate(3.60 -5.00)"/><path d="M3 0C1.2 0 0 1.9 0 5S1.2 10 3 10S6 8.1 6 5S4.8 0 3 0Z" transform="translate(7.20 -5.00)"/></g>
<g transform="translate(138.6 242) rotate(-86) scale(0.94)" fill="none" stroke="#000" stroke-width="1.08" stroke-linecap="round" stroke-linejoin="round"><path d="M5.4 1.4C5.1 .5 4.3 0 3.2 0C1.2 0 0 2 0 5.5C0 8.5 1.2 10 3 10S6 8.7 6 6.8S4.8 3.7 3 3.7S0 5 0 6.5" transform="translate(-13.20 -5.00)"/><path d="M3 0C1.2 0 0 1.9 0 5S1.2 10 3 10S6 8.1 6 5S4.8 0 3 0Z" transform="translate(-4.80 -5.00)"/><path d="M.3 9.3H1V10H.3Z" transform="translate(3.60 -5.00)"/><path d="M3 0C1.2 0 0 1.9 0 5S1.2 10 3 10S6 8.1 6 5S4.8 0 3 0Z" transform="translate(7.20 -5.00)"/></g>
<g transform="translate(143.5 231.3) rotate(-88) scale(0.94)" fill="none" stroke="#000" stroke-width="1.08" stroke-linecap="round" stroke-linejoin="round"><path d="M3 0C1.4 0 .6 .9 .6 2.2S1.6 4.2 3 4.5C4.6 4.9 6 5.8 6 7.4S4.8 10 3 10S0 9 0 7.4S1.4 4.9 3 4.5C4.4 4.2 5.4 3.5 5.4 2.2S4.6 0 3 0Z" transform="translate(-13.20 -5.00)"/><path d="M3 0C1.2 0 0 1.9 0 5S1.2 10 3 10S6 8.1 6 5S4.8 0 3 0Z" transform="translate(-4.80 -5.00)"/><path d="M.3 9.3H1V10H.3Z" transform="translate(3.60 -5.00)"/><path d="M3 0C1.2 0 0 1.9 0 5S1.2 10 3 10S6 8.1 6 5S4.8 0 3 0Z" transform="translate(7.20 -5.00)"/></g>
<g transform="translate(365.4 171.1) rotate(70) scale(0.94)" fill="none" stroke="#000" stroke-width="1.08" stroke-linecap="round" stroke-linejoin="round"><path d="M3 0C1.2 0 0 1.9 0 5S1.2 10 3 10S6 8.1 6 5S4.8 0 3 0Z" transform="translate(-13.20 -5.00)"/><path d="M.3 9.3H1V10H.3Z" transform="translate(-4.80 -5.00)"/><path d="M3 0C1.2 0 0 1.9 0 5S1.2 10 3 10S6 8.1 6 5S4.8 0 3 0Z" transform="translate(-1.20 -5.00)"/><path d="M3 0C1.2 0 0 1.9 0 5S1.2 10 3 10S6 8.1 6 5S4.8 0 3 0Z" transform="translate(7.20 -5.00)"/></g>
<g transform="translate(367.1 200.9) rotate(84) scale(0.94)" fill="none" stroke="#000" stroke-width="1.08" stroke-linecap="round" stroke-linejoin="round"><path d="M.3 2.4C.3 .9 1.3 0 3 0S5.7 .9 5.7 2.4C5.7 3.8 4.8 4.8 0 10H6" transform="translate(-13.20 -5.00)"/><path d="M3 0C1.2 0 0 1.9 0 5S1.2 10 3 10S6 8.1 6 5S4.8 0 3 0Z" transform="translate(-4.80 -5.00)"/><path d="M.3 9.3H1V10H.3Z" transform="translate(3.60 -5.00)"/><path d="M3 0C1.2 0 0 1.9 0 5S1.2 10 3 10S6 8.1 6 5S4.8 0 3 0Z" transform="translate(7.20 -5.00)"/></g>
<g transform="translate(364.8 231.3) rotate(88) scale(0.94)" fill="none" stroke="#000" stroke-width="1.08" stroke-linecap="round" stroke-linejoin="round"><path d="M4.3 0L0 6.7H6.4M4.3 0V10" transform="translate(-13.20 -5.00)"/><path d="M3 0C1.2 0 0 1.9 0 5S1.2 10 3 10S6 8.1 6 5S4.8 0 3 0Z" transform="translate(-4.80 -5.00)"/><path d="M.3 9.3H1V10H.3Z" transform="translate(3.60 -5.00)"/><path d="M3 0C1.2 0 0 1.9 0 5S1.2 10 3 10S6 8.1 6 5S4.8 0 3 0Z" transform="translate(7.20 -5.00)"/></g>
<g transform="translate(361.4 251.6) rotate(84) scale(0.94)" fill="none" stroke="#000" stroke-width="1.08" stroke-linecap="round" stroke-linejoin="round"><path d="M5.4 1.4C5.1 .5 4.3 0 3.2 0C1.2 0 0 2 0 5.5C0 8.5 1.2 10 3 10S6 8.7 6 6.8S4.8 3.7 3 3.7S0 5 0 6.5" transform="translate(-13.20 -5.00)"/><path d="M3 0C1.2 0 0 1.9 0 5S1.2 10 3 10S6 8.1 6 5S4.8 0 3 0Z" transform="translate(-4.80 -5.00)"/><path d="M.3 9.3H1V10H.3Z" transform="translate(3.60 -5.00)"/><path d="M3 0C1.2 0 0 1.9 0 5S1.2 10 3 10S6 8.1 6 5S4.8 0 3 0Z" transform="translate(7.20 -5.00)"/></g>
<g transform="translate(352.6 280.4) rotate(-88) scale(0.94)" fill="none" stroke="#000" stroke-width="1.08" stroke-linecap="round" stroke-linejoin="round"><path d="M3 0C1.4 0 .6 .9 .6 2.2S1.6 4.2 3 4.5C4.6 4.9 6 5.8 6 7.4S4.8 10 3 10S0 9 0 7.4S1.4 4.9 3 4.5C4.4 4.2 5.4 3.5 5.4 2.2S4.6 0 3 0Z" transform="translate(-13.20 -5.00)"/><path d="M3 0C1.2 0 0 1.9 0 5S1.2 10 3 10S6 8.1 6 5S4.8 0 3 0Z" transform="translate(-4.80 -5.00)"/><path d="M.3 9.3H1V10H.3Z" transform="translate(3.60 -5.00)"/><path d="M3 0C1.2 0 0 1.9 0 5S1.2 10 3 10S6 8.1 6 5S4.8 0 3 0Z" transform="translate(7.20 -5.00)"/></g>
<g transform="translate(289 343) rotate(-15) scale(0.94)" fill="none" stroke="#000" stroke-width="1.08" stroke-linecap="round" stroke-linejoin="round"><path d="M1 1.9L3.2 0V10" transform="translate(-13.20 -5.00)"/><path d="M3 0C1.2 0 0 1.9 0 5S1.2 10 3 10S6 8.1 6 5S4.8 0 3 0Z" transform="translate(-4.80 -5.00)"/><path d="M3 0C1.2 0 0 1.9 0 5S1.2 10 3 10S6 8.1 6 5S4.8 0 3 0Z" transform="translate(3.60 -5.00)"/><path d="M.3 9.3H1V10H.3Z" transform="translate(12.00 -5.00)"/></g>
<rect x="265.7" y="494.3" width="7.3" height="14.8" fill="#7800aa"/>
<rect x="273.0" y="494.3" width="18.4" height="14.8" fill="#0a00c8"/>
<rect x="291.4" y="494.3" width="18.6" height="14.8" fill="#003cff"/>
<rect x="310.0" y="494.3" width="18.7" height="14.8" fill="#00a0ff"/>
<rect x="328.7" y="494.3" width="18.9" height="14.8" fill="#00ffff"/>
<rect x="347.6" y="494.3" width="18.7" height="14.8" fill="#00ff78"/>
<rect x="366.3" y="494.3" width="18.9" height="14.8" fill="#00ff00"/>
<rect x="385.2" y="494.3" width="19.0" height="14.8" fill="#6eff00"/>
<rect x="404.2" y="494.3" width="19.0" height="14.8" fill="#dcff14"/>
<rect x="423.2" y="494.3" width="18.6" height="14.8" fill="#ffb400"/>
<rect x="441.8" y="494.3" width="19.0" height="14.8" fill="#ff4600"/>
<rect x="460.8" y="494.3" width="18.6" height="14.8" fill="#ff1e28"/>
<rect x="479.4" y="494.3" width="6.8" height="14.8" fill="#ffa0a8"/>
<path d="M273.0 494.3v14.8" stroke="#000" stroke-width="1"/>
<path d="M291.4 494.3v14.8" stroke="#000" stroke-width="1"/>
<path d="M310.0 494.3v14.8" stroke="#000" stroke-width="1"/>
<path d="M328.7 494.3v14.8" stroke="#000" stroke-width="1"/>
<path d="M347.6 494.3v14.8" stroke="#000" stroke-width="1"/>
<path d="M366.3 494.3v14.8" stroke="#000" stroke-width="1"/>
<path d="M385.2 494.3v14.8" stroke="#000" stroke-width="1"/>
<path d="M404.2 494.3v14.8" stroke="#000" stroke-width="1"/>
<path d="M423.2 494.3v14.8" stroke="#000" stroke-width="1"/>
<path d="M441.8 494.3v14.8" stroke="#000" stroke-width="1"/>
<path d="M460.8 494.3v14.8" stroke="#000" stroke-width="1"/>
<path d="M479.4 494.3v14.8" stroke="#000" stroke-width="1"/>
<rect x="273.2" y="495" width="1" height="13.6" fill="#fff" opacity="0.28"/>
<rect x="280.6" y="495" width="1" height="13.6" fill="#fff" opacity="0.28"/>
<rect x="282.9" y="495" width="1" height="13.6" fill="#fff" opacity="0.28"/>
<rect x="291.8" y="495" width="1" height="13.6" fill="#fff" opacity="0.28"/>
<rect x="294.1" y="495" width="1" height="13.6" fill="#fff" opacity="0.28"/>
<rect x="300.8" y="495" width="1" height="13.6" fill="#fff" opacity="0.28"/>
<rect x="303.0" y="495" width="1" height="13.6" fill="#fff" opacity="0.28"/>
<rect x="311.2" y="495" width="1" height="13.6" fill="#fff" opacity="0.28"/>
<rect x="313.4" y="495" width="1" height="13.6" fill="#fff" opacity="0.28"/>
<rect x="318.6" y="495" width="1" height="13.6" fill="#fff" opacity="0.28"/>
<rect x="320.9" y="495" width="1" height="13.6" fill="#fff" opacity="0.28"/>
<rect x="323.1" y="495" width="1" height="13.6" fill="#fff" opacity="0.28"/>
<rect x="325.3" y="495" width="1" height="13.6" fill="#fff" opacity="0.28"/>
<rect x="338.8" y="495" width="1" height="13.6" fill="#fff" opacity="0.28"/>
<rect x="341.0" y="495" width="1" height="13.6" fill="#fff" opacity="0.28"/>
<rect x="351.4" y="495" width="1" height="13.6" fill="#fff" opacity="0.28"/>
<rect x="352.9" y="495" width="1" height="13.6" fill="#fff" opacity="0.28"/>
<rect x="360.4" y="495" width="1" height="13.6" fill="#fff" opacity="0.28"/>
<rect x="362.6" y="495" width="1" height="13.6" fill="#fff" opacity="0.28"/>
<rect x="378.5" y="495" width="1" height="13.6" fill="#fff" opacity="0.28"/>
<rect x="380.8" y="495" width="1" height="13.6" fill="#fff" opacity="0.28"/>
<rect x="382.3" y="495" width="1" height="13.6" fill="#fff" opacity="0.28"/>
<rect x="389.9" y="495" width="1" height="13.6" fill="#fff" opacity="0.28"/>
<rect x="392.2" y="495" width="1" height="13.6" fill="#fff" opacity="0.28"/>
<rect x="407.3" y="495" width="1" height="13.6" fill="#fff" opacity="0.28"/>
<rect x="409.6" y="495" width="1" height="13.6" fill="#fff" opacity="0.28"/>
<rect x="411.9" y="495" width="1" height="13.6" fill="#fff" opacity="0.28"/>
<rect x="427.8" y="495" width="1" height="13.6" fill="#fff" opacity="0.28"/>
<rect x="430.0" y="495" width="1" height="13.6" fill="#fff" opacity="0.28"/>
<rect x="432.3" y="495" width="1" height="13.6" fill="#fff" opacity="0.28"/>
<rect x="447.5" y="495" width="1" height="13.6" fill="#fff" opacity="0.28"/>
<rect x="449.7" y="495" width="1" height="13.6" fill="#fff" opacity="0.28"/>
<rect x="452.0" y="495" width="1" height="13.6" fill="#fff" opacity="0.28"/>
<rect x="467.2" y="495" width="1" height="13.6" fill="#fff" opacity="0.28"/>
<rect x="469.4" y="495" width="1" height="13.6" fill="#fff" opacity="0.28"/>
<rect x="471.7" y="495" width="1" height="13.6" fill="#fff" opacity="0.28"/>
<rect x="265.7" y="494.3" width="220.5" height="14.8" fill="none" stroke="#000" stroke-width="1.1"/>
<g style="opacity:0.999"><text x="272.3" y="91.6" font-size="23.5" text-anchor="start" fill="#111" stroke="#fff" stroke-width="0.55" textLength="90" lengthAdjust="spacingAndGlyphs" >sensible</text><text x="377.5" y="91.6" font-size="23.5" text-anchor="start" fill="#111" stroke="#fff" stroke-width="0.55" textLength="48.5" lengthAdjust="spacingAndGlyphs" >heat</text><text x="441" y="91.6" font-size="23.5" text-anchor="start" fill="#111" stroke="#fff" stroke-width="0.55" textLength="38.5" lengthAdjust="spacingAndGlyphs" >flux</text><text x="118.7" y="401.3" font-size="14.4" text-anchor="middle" fill="#111" stroke="#fff" stroke-width="0.3" textLength="8.7" lengthAdjust="spacingAndGlyphs" >0</text><text x="190.7" y="401.3" font-size="14.4" text-anchor="middle" fill="#111" stroke="#fff" stroke-width="0.3" textLength="18" lengthAdjust="spacingAndGlyphs" >50</text><text x="262.7" y="401.3" font-size="14.4" text-anchor="middle" fill="#111" stroke="#fff" stroke-width="0.3" textLength="27.3" lengthAdjust="spacingAndGlyphs" >100</text><text x="334.7" y="401.3" font-size="14.4" text-anchor="middle" fill="#111" stroke="#fff" stroke-width="0.3" textLength="27.3" lengthAdjust="spacingAndGlyphs" >150</text><text x="406.7" y="401.3" font-size="14.4" text-anchor="middle" fill="#111" stroke="#fff" stroke-width="0.3" textLength="27.3" lengthAdjust="spacingAndGlyphs" >200</text><text x="478.7" y="401.3" font-size="14.4" text-anchor="middle" fill="#111" stroke="#fff" stroke-width="0.3" textLength="27.3" lengthAdjust="spacingAndGlyphs" >250</text><text x="550.7" y="401.3" font-size="14.4" text-anchor="middle" fill="#111" stroke="#fff" stroke-width="0.3" textLength="27.3" lengthAdjust="spacingAndGlyphs" >300</text><text x="622.7" y="401.3" font-size="14.4" text-anchor="middle" fill="#111" stroke="#fff" stroke-width="0.3" textLength="27.3" lengthAdjust="spacingAndGlyphs" >350</text><text x="111.6" y="186.8" font-size="14.4" text-anchor="end" fill="#111" stroke="#fff" stroke-width="0.3" textLength="18" lengthAdjust="spacingAndGlyphs" >50</text><text x="111.6" y="260" font-size="14.4" text-anchor="end" fill="#111" stroke="#fff" stroke-width="0.3" textLength="8.7" lengthAdjust="spacingAndGlyphs" >0</text><text x="111.6" y="332.5" font-size="14.4" text-anchor="end" fill="#111" stroke="#fff" stroke-width="0.3" textLength="18" lengthAdjust="spacingAndGlyphs" >50</text><path d="M84 328.1h7.6" stroke="#444" stroke-width="1"/><text x="47.2" y="410.7" font-size="12.4" text-anchor="start" fill="#111" stroke="#fff" stroke-width="0.3" textLength="106" lengthAdjust="spacingAndGlyphs" >(degree_north)</text><text x="549.7" y="419.1" font-size="12.4" text-anchor="start" fill="#111" stroke="#fff" stroke-width="0.3" textLength="99" lengthAdjust="spacingAndGlyphs" >(degree_east)</text><text x="334.9" y="443.8" font-size="19" text-anchor="start" fill="#111" stroke="#fff" stroke-width="0.5" textLength="82.3" lengthAdjust="spacingAndGlyphs" >longitude</text><text x="71.4" y="288.6" transform="rotate(-90 71.4 288.6)" font-size="19" textLength="67.2" lengthAdjust="spacingAndGlyphs" fill="#1c1c1c" stroke="#fff" stroke-width="0.5">latitude</text><text x="257.1" y="480.8" font-size="14.4" text-anchor="start" fill="#111" stroke="#fff" stroke-width="0.3" textLength="63.9" lengthAdjust="spacingAndGlyphs" >CONTOUR</text><text x="329" y="480.8" font-size="14.4" text-anchor="start" fill="#111" stroke="#fff" stroke-width="0.3" textLength="61.4" lengthAdjust="spacingAndGlyphs" >INTERVAL</text><text x="399.5" y="480.8" font-size="14.4" text-anchor="start" fill="#111" stroke="#fff" stroke-width="0.3" textLength="9.2" lengthAdjust="spacingAndGlyphs" >=</text><text x="418.3" y="480.8" font-size="14.4" text-anchor="start" fill="#111" stroke="#fff" stroke-width="0.3" textLength="75.7" lengthAdjust="spacingAndGlyphs" >1.000E+01</text><text x="272" y="524.7" font-size="13.2" text-anchor="middle" fill="#111" stroke="#fff" stroke-width="0.3" textLength="6.7" lengthAdjust="spacingAndGlyphs" >0</text><text x="328.5" y="524.7" font-size="13.2" text-anchor="middle" fill="#111" stroke="#fff" stroke-width="0.3" textLength="14.8" lengthAdjust="spacingAndGlyphs" >30</text><text x="385.2" y="524.7" font-size="13.2" text-anchor="middle" fill="#111" stroke="#fff" stroke-width="0.3" textLength="14.8" lengthAdjust="spacingAndGlyphs" >60</text><text x="441.8" y="524.7" font-size="13.2" text-anchor="middle" fill="#111" stroke="#fff" stroke-width="0.3" textLength="14.8" lengthAdjust="spacingAndGlyphs" >90</text><text x="486" y="524.7" font-size="13.2" text-anchor="middle" fill="#111" stroke="#fff" stroke-width="0.3" textLength="22.9" lengthAdjust="spacingAndGlyphs" >114</text></g>
</svg></body></html>
